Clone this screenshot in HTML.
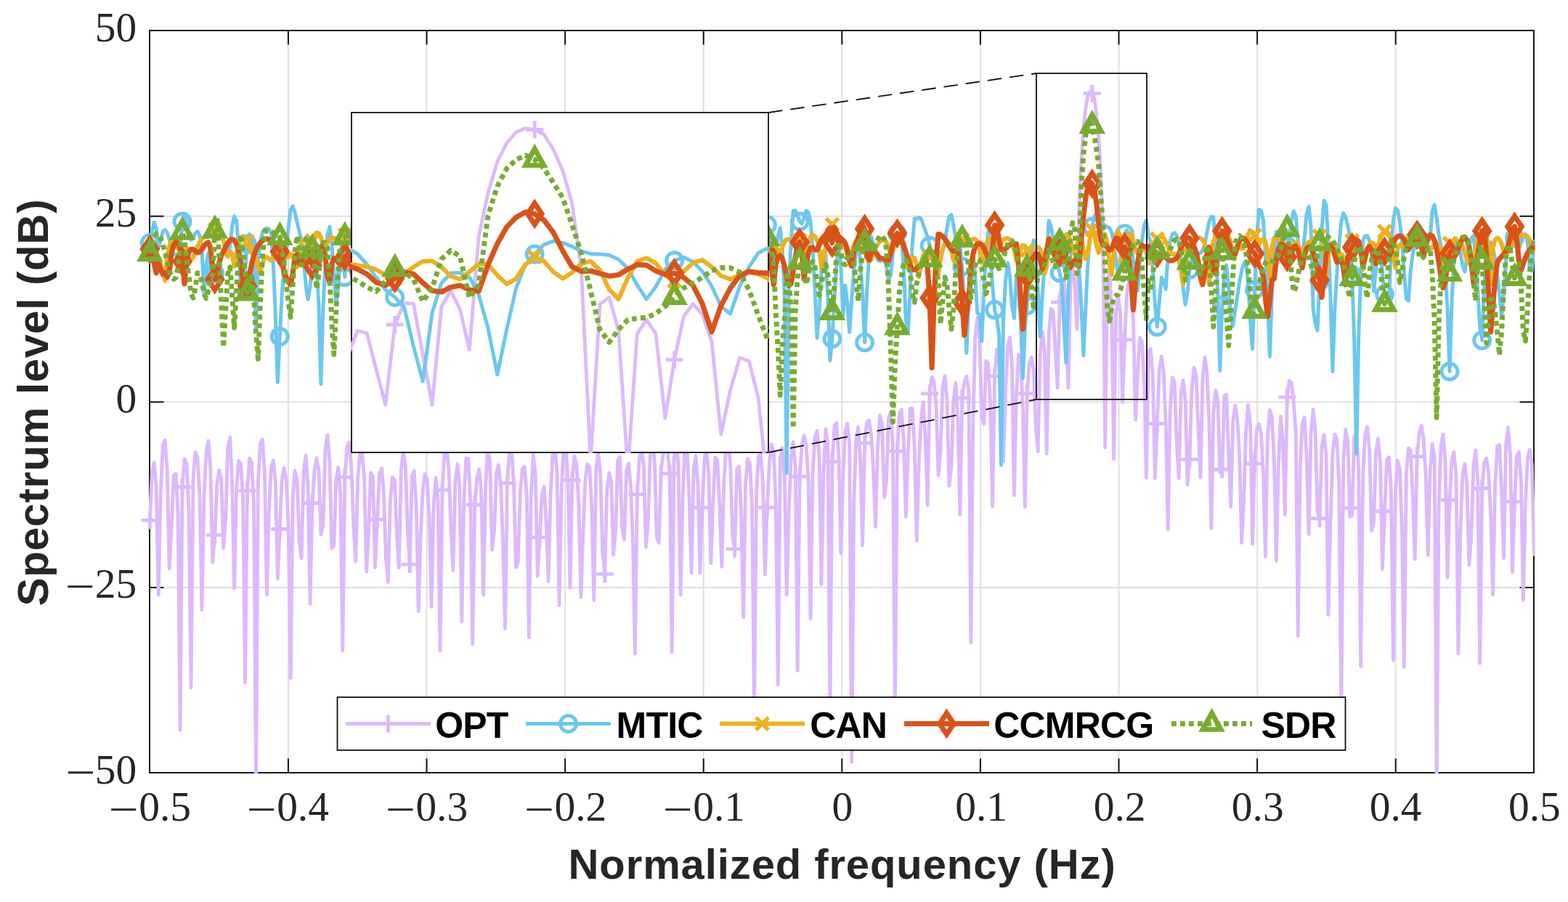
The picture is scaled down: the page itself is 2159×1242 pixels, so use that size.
<!DOCTYPE html>
<html><head><meta charset="utf-8"><title>Spectrum level</title>
<style>html,body{margin:0;padding:0;background:#fff;overflow:hidden;}svg{display:block;}</style>
</head><body>
<svg width="2159" height="1242" viewBox="0 0 2159 1242">
<rect width="2159" height="1242" fill="#fff"/>
<defs>
<clipPath id="cm"><rect x="204.5" y="40.5" width="1909.0" height="1025.0"/></clipPath>
<clipPath id="ci"><rect x="483.0" y="154.0" width="576.0" height="470.0"/></clipPath>
<clipPath id="cim"><rect x="484.0" y="155.0" width="574.0" height="468.0"/></clipPath>
</defs>
<path d="M396.9 42.0V1064.0M587.5 42.0V1064.0M778.1 42.0V1064.0M968.7 42.0V1064.0M1159.3 42.0V1064.0M1349.9 42.0V1064.0M1540.5 42.0V1064.0M1731.1 42.0V1064.0M1921.7 42.0V1064.0M206.0 297.8H2112.0M206.0 553.4H2112.0M206.0 809.0H2112.0" stroke="#dfdfdf" stroke-width="2" fill="none"/>
<path d="M206.0 1064.0V1044.5M206.0 42.0V61.5M396.9 1064.0V1044.5M396.9 42.0V61.5M587.5 1064.0V1044.5M587.5 42.0V61.5M778.1 1064.0V1044.5M778.1 42.0V61.5M968.7 1064.0V1044.5M968.7 42.0V61.5M1159.3 1064.0V1044.5M1159.3 42.0V61.5M1349.9 1064.0V1044.5M1349.9 42.0V61.5M1540.5 1064.0V1044.5M1540.5 42.0V61.5M1731.1 1064.0V1044.5M1731.1 42.0V61.5M1921.7 1064.0V1044.5M1921.7 42.0V61.5M2112.0 1064.0V1044.5M2112.0 42.0V61.5M206.0 42.0H225.5M2112.0 42.0H2092.5M206.0 297.8H225.5M2112.0 297.8H2092.5M206.0 553.4H225.5M2112.0 553.4H2092.5M206.0 809.0H225.5M2112.0 809.0H2092.5M206.0 1064.0H225.5M2112.0 1064.0H2092.5" stroke="#141414" stroke-width="2" fill="none"/>
<rect x="206.0" y="42.0" width="1906.0" height="1022.0" fill="none" stroke="#141414" stroke-width="2"/>
<polyline clip-path="url(#cm)" points="206.3,716.4 209.3,649.0 212.3,636.8 215.2,672.7 218.2,819.2 221.2,680.6 224.2,612.4 227.2,606.1 230.2,646.1 233.1,783.2 236.1,727.8 239.1,655.4 242.1,652.2 245.1,708.1 248.1,1005.3 251.0,670.5 254.0,631.8 257.0,637.8 260.0,702.5 263.0,947.0 266.0,658.8 268.9,622.8 271.9,629.8 274.9,681.5 277.9,839.7 280.9,688.1 283.9,621.9 286.8,606.9 289.8,643.5 292.8,774.3 295.8,736.6 298.8,667.4 301.7,647.3 304.7,659.6 307.7,754.4 310.7,714.0 313.7,615.7 316.7,602.2 319.6,663.0 322.6,809.9 325.6,673.2 328.6,634.7 331.6,638.1 334.6,686.0 337.5,939.9 340.5,675.6 343.5,631.1 346.5,636.5 349.5,695.6 352.5,1085.0 355.4,662.9 358.4,609.9 361.4,604.9 364.4,653.5 367.4,819.2 370.4,704.5 373.3,643.4 376.3,634.0 379.3,663.7 382.3,796.6 385.3,728.5 388.2,661.1 391.2,644.3 394.2,660.4 397.2,727.4 400.2,933.7 403.2,683.9 406.1,648.0 409.1,660.1 412.1,745.5 415.1,768.5 418.1,648.4 421.1,627.1 424.0,669.4 427.0,831.5 430.0,692.9 433.0,648.2 436.0,630.8 439.0,647.9 441.9,735.9 444.9,723.7 447.9,618.4 450.9,598.8 453.9,636.2 456.9,754.6 459.8,751.5 462.8,659.6 465.8,643.6 468.8,680.3 471.8,895.9 474.8,657.2 477.7,616.5 480.7,609.3 483.7,639.8 486.7,719.6 489.7,773.2 492.6,660.4 495.6,624.6 498.6,623.4 501.6,657.4 504.6,787.2 507.6,730.3 510.5,650.6 513.5,656.5 516.5,781.5 519.5,715.3 522.5,652.2 525.5,644.7 528.4,677.8 531.4,770.3 534.4,801.5 537.4,689.9 540.4,656.9 543.4,661.3 546.3,735.5 549.3,781.8 552.3,648.5 555.3,621.8 558.3,642.3 561.3,729.3 564.2,777.1 567.2,655.3 570.2,648.4 573.2,697.8 576.2,841.7 579.1,739.4 582.1,675.2 585.1,652.6 588.1,660.0 591.1,713.0 594.1,835.6 597.0,697.3 600.0,657.7 603.0,687.2 606.0,895.9 609.0,674.6 612.0,623.8 614.9,614.4 617.9,645.4 620.9,728.6 623.9,785.8 626.9,662.6 629.9,638.7 632.8,671.1 635.8,856.0 638.8,687.4 641.8,630.9 644.8,631.5 647.8,689.6 650.7,886.7 653.7,695.0 656.7,658.1 659.7,646.2 662.7,676.8 665.6,819.2 668.6,671.3 671.6,616.0 674.6,637.3 677.6,756.9 680.6,731.5 683.5,650.6 686.5,640.3 689.5,666.8 692.5,745.2 695.5,865.2 698.5,665.4 701.4,620.9 704.4,622.8 707.4,664.5 710.4,781.4 713.4,772.2 716.4,677.5 719.3,645.7 722.3,642.5 725.3,681.3 728.3,877.5 731.3,677.9 734.3,626.0 737.2,653.6 740.2,793.2 743.2,739.8 746.2,680.6 749.2,670.0 752.1,719.5 755.1,800.6 758.1,680.8 761.1,621.7 764.1,614.1 767.1,653.1 770.0,833.5 773.0,678.6 776.0,613.5 779.0,609.1 782.0,663.1 785.0,809.3 787.9,661.3 790.9,628.0 793.9,639.7 796.9,694.6 799.9,822.3 802.9,732.9 805.8,661.9 808.8,639.2 811.8,643.2 814.8,701.3 817.8,826.4 820.8,646.2 823.7,622.8 826.7,651.5 829.7,759.2 832.7,790.3 835.7,675.1 838.7,651.2 841.6,663.2 844.6,764.2 847.6,731.6 850.6,634.2 853.6,629.3 856.5,725.6 859.5,742.7 862.5,649.0 865.5,638.4 868.5,669.9 871.5,750.6 874.4,900.0 877.4,680.7 880.4,630.9 883.4,618.1 886.4,643.5 889.4,753.5 892.3,720.7 895.3,627.1 898.3,606.3 901.3,634.0 904.3,739.9 907.3,747.4 910.2,646.1 913.2,624.5 916.2,614.4 919.2,621.7 922.2,652.1 925.2,897.9 928.1,630.4 931.1,599.4 934.1,643.1 937.1,819.2 940.1,681.8 943.0,618.5 946.0,617.6 949.0,686.0 952.0,788.9 955.0,646.5 958.0,627.8 960.9,665.1 963.9,788.9 966.9,698.9 969.9,634.3 972.9,620.9 975.9,653.4 978.8,775.4 981.8,693.2 984.8,629.8 987.8,633.6 990.8,695.9 993.8,780.3 996.7,665.6 999.7,616.6 1002.7,610.1 1005.7,639.4 1008.7,740.1 1011.7,755.8 1014.6,645.9 1017.6,642.2 1020.6,709.3 1023.6,849.9 1026.6,665.7 1029.5,631.3 1032.5,638.3 1035.5,696.0 1038.5,982.8 1041.5,677.5 1044.5,627.4 1047.4,623.8 1050.4,666.8 1053.4,791.3 1056.4,698.9 1059.4,635.5 1062.4,612.0 1065.3,623.0 1068.3,697.6 1071.3,942.9 1074.3,630.3 1077.3,616.8 1080.3,657.2 1083.2,819.2 1086.2,705.4 1089.2,629.3 1092.2,608.4 1095.2,645.1 1098.2,923.5 1101.1,656.1 1104.1,613.7 1107.1,599.9 1110.1,611.9 1113.1,662.4 1116.0,851.9 1119.0,652.2 1122.0,601.5 1125.0,593.0 1128.0,627.4 1131.0,804.8 1133.9,651.0 1136.9,590.7 1139.9,612.5 1142.9,982.8 1145.9,635.7 1148.9,586.3 1151.8,582.5 1154.8,626.0 1157.8,761.5 1160.8,655.5 1163.8,593.0 1166.8,583.0 1169.7,612.2 1172.7,1049.3 1175.7,691.9 1178.7,607.7 1181.7,588.0 1184.7,634.9 1187.6,751.3 1190.6,610.2 1193.6,581.8 1196.6,578.7 1199.6,599.4 1202.6,649.2 1205.5,725.4 1208.5,617.0 1211.5,571.8 1214.5,582.1 1217.5,685.0 1220.4,664.5 1223.4,576.0 1226.4,567.0 1229.4,614.9 1232.4,982.8 1235.4,621.3 1238.3,568.8 1241.3,564.1 1244.3,606.1 1247.3,711.7 1250.3,623.1 1253.3,562.5 1256.2,562.5 1259.2,615.4 1262.2,744.4 1265.2,638.2 1268.2,577.6 1271.2,553.6 1274.1,601.9 1277.1,695.6 1280.1,541.8 1283.1,519.3 1286.1,526.1 1289.1,559.7 1292.0,654.3 1295.0,620.4 1298.0,532.4 1301.0,517.9 1304.0,549.9 1306.9,668.8 1309.9,643.3 1312.9,550.9 1315.9,527.2 1318.9,577.4 1321.9,708.7 1324.8,547.9 1327.8,525.7 1330.8,518.2 1333.8,537.4 1336.8,884.7 1339.8,586.3 1342.7,465.5 1345.7,437.5 1348.7,464.5 1351.7,571.8 1354.7,583.9 1357.7,497.0 1360.6,499.7 1363.6,557.2 1366.6,697.0 1369.6,517.9 1372.6,480.9 1375.6,487.2 1378.5,541.3 1381.5,635.6 1384.5,541.2 1387.5,477.2 1390.5,464.4 1393.4,502.1 1396.4,682.1 1399.4,546.1 1402.4,488.2 1405.4,495.7 1408.4,563.8 1411.3,698.0 1414.3,541.8 1417.3,499.6 1420.3,492.0 1423.3,509.9 1426.3,589.6 1429.2,621.6 1432.2,490.1 1435.2,456.6 1438.2,480.6 1441.2,625.0 1444.2,459.9 1447.1,425.2 1450.1,428.4 1453.1,482.4 1456.1,534.1 1459.1,416.1 1462.1,384.2 1465.0,385.4 1468.0,459.7 1471.0,534.1 1474.0,389.7 1477.0,365.9 1479.9,394.0 1482.9,453.1 1485.9,285.5 1488.9,222.4 1491.9,175.8 1494.9,148.5 1497.8,132.4 1500.8,126.6 1503.8,128.7 1506.8,135.7 1509.8,157.7 1512.8,188.6 1515.7,236.3 1518.7,333.7 1521.7,616.3 1524.7,386.1 1527.7,375.8 1530.7,425.4 1533.6,632.0 1536.6,429.6 1539.6,408.9 1542.6,429.6 1545.6,554.0 1548.6,467.9 1551.5,403.5 1554.5,385.6 1557.5,401.5 1560.5,441.2 1563.5,577.9 1566.5,512.5 1569.4,464.9 1572.4,469.9 1575.4,524.3 1578.4,658.0 1581.4,483.5 1584.3,480.2 1587.3,516.7 1590.3,658.7 1593.3,583.3 1596.3,507.6 1599.3,490.8 1602.2,513.0 1605.2,582.5 1608.2,729.1 1611.2,564.9 1614.2,519.8 1617.2,526.2 1620.1,607.1 1623.1,658.4 1626.1,542.2 1629.1,523.8 1632.1,551.0 1635.1,667.5 1638.0,632.7 1641.0,535.8 1644.0,505.8 1647.0,516.0 1650.0,592.2 1653.0,657.6 1655.9,522.2 1658.9,492.2 1661.9,512.3 1664.9,580.9 1667.9,727.3 1670.8,569.2 1673.8,537.2 1676.8,550.3 1679.8,650.2 1682.8,646.5 1685.8,544.8 1688.7,543.8 1691.7,624.4 1694.7,697.9 1697.7,579.9 1700.7,558.2 1703.7,575.6 1706.6,623.9 1709.6,747.4 1712.6,690.0 1715.6,593.2 1718.6,557.5 1721.6,583.8 1724.5,748.8 1727.5,638.7 1730.5,590.2 1733.5,583.8 1736.5,597.0 1739.5,654.0 1742.4,766.1 1745.4,601.5 1748.4,564.4 1751.4,574.5 1754.4,633.1 1757.3,772.3 1760.3,642.1 1763.3,573.3 1766.3,606.1 1769.3,708.7 1772.3,546.9 1775.2,524.2 1778.2,526.7 1781.2,553.8 1784.2,594.5 1787.2,875.5 1790.2,642.7 1793.1,583.6 1796.1,574.8 1799.1,629.4 1802.1,735.5 1805.1,596.3 1808.1,563.7 1811.0,592.8 1814.0,704.2 1817.0,713.9 1820.0,614.3 1823.0,598.9 1826.0,625.1 1828.9,846.8 1831.9,724.2 1834.9,626.3 1837.9,597.9 1840.9,605.9 1843.8,664.3 1846.8,982.8 1849.8,632.1 1852.8,591.3 1855.8,607.4 1858.8,711.7 1861.7,699.7 1864.7,601.9 1867.7,596.5 1870.7,644.5 1873.7,917.4 1876.7,654.2 1879.6,597.6 1882.6,587.7 1885.6,619.8 1888.6,730.6 1891.6,718.3 1894.6,621.9 1897.5,603.9 1900.5,636.2 1903.5,783.5 1906.5,704.0 1909.5,633.4 1912.5,629.5 1915.4,675.4 1918.4,909.2 1921.4,679.0 1924.4,634.1 1927.4,645.7 1930.4,726.8 1933.3,918.4 1936.3,653.0 1939.3,616.9 1942.3,620.1 1945.3,684.7 1948.2,769.9 1951.2,628.6 1954.2,596.0 1957.2,586.1 1960.2,604.5 1963.2,655.6 1966.1,764.3 1969.1,648.8 1972.1,611.0 1975.1,628.6 1978.1,1085.0 1981.1,695.5 1984.0,614.2 1987.0,598.0 1990.0,635.9 1993.0,795.4 1996.0,688.7 1999.0,632.9 2001.9,622.4 2004.9,652.3 2007.9,900.0 2010.9,731.8 2013.9,652.9 2016.9,638.7 2019.8,665.8 2022.8,778.0 2025.8,740.4 2028.8,640.8 2031.8,620.0 2034.7,662.1 2037.7,913.3 2040.7,672.5 2043.7,637.2 2046.7,630.9 2049.7,651.2 2052.6,709.3 2055.6,819.2 2058.6,666.4 2061.6,614.3 2064.6,612.5 2067.6,676.1 2070.5,768.5 2073.5,613.1 2076.5,588.7 2079.5,625.8 2082.5,787.7 2085.5,690.7 2088.4,627.2 2091.4,622.5 2094.4,660.8 2097.4,826.4 2100.4,693.9 2103.4,630.8 2106.3,619.1 2109.3,639.1 2112.3,763.0" fill="none" stroke="#dcb9fd" stroke-width="4.8" stroke-linejoin="round" stroke-linecap="round"/>
<path d="M194.3 716.4H218.3M206.3 704.4V728.4" stroke="#dcb9fd" stroke-width="4.8" fill="none"/><path d="M239.0 670.5H263.0M251.0 658.5V682.5" stroke="#dcb9fd" stroke-width="4.8" fill="none"/><path d="M283.8 736.6H307.8M295.8 724.6V748.6" stroke="#dcb9fd" stroke-width="4.8" fill="none"/><path d="M328.5 675.6H352.5M340.5 663.6V687.6" stroke="#dcb9fd" stroke-width="4.8" fill="none"/><path d="M373.3 728.5H397.3M385.3 716.5V740.5" stroke="#dcb9fd" stroke-width="4.8" fill="none"/><path d="M418.0 692.9H442.0M430.0 680.9V704.9" stroke="#dcb9fd" stroke-width="4.8" fill="none"/><path d="M462.8 657.2H486.8M474.8 645.2V669.2" stroke="#dcb9fd" stroke-width="4.8" fill="none"/><path d="M507.5 715.3H531.5M519.5 703.3V727.3" stroke="#dcb9fd" stroke-width="4.8" fill="none"/><path d="M552.2 777.1H576.2M564.2 765.1V789.1" stroke="#dcb9fd" stroke-width="4.8" fill="none"/><path d="M597.0 674.6H621.0M609.0 662.6V686.6" stroke="#dcb9fd" stroke-width="4.8" fill="none"/><path d="M641.7 695.0H665.7M653.7 683.0V707.0" stroke="#dcb9fd" stroke-width="4.8" fill="none"/><path d="M686.5 665.4H710.5M698.5 653.4V677.4" stroke="#dcb9fd" stroke-width="4.8" fill="none"/><path d="M731.2 739.8H755.2M743.2 727.8V751.8" stroke="#dcb9fd" stroke-width="4.8" fill="none"/><path d="M775.9 661.3H799.9M787.9 649.3V673.3" stroke="#dcb9fd" stroke-width="4.8" fill="none"/><path d="M820.7 790.3H844.7M832.7 778.3V802.3" stroke="#dcb9fd" stroke-width="4.8" fill="none"/><path d="M865.4 680.7H889.4M877.4 668.7V692.7" stroke="#dcb9fd" stroke-width="4.8" fill="none"/><path d="M910.2 652.1H934.2M922.2 640.1V664.1" stroke="#dcb9fd" stroke-width="4.8" fill="none"/><path d="M954.9 698.9H978.9M966.9 686.9V710.9" stroke="#dcb9fd" stroke-width="4.8" fill="none"/><path d="M999.7 755.8H1023.7M1011.7 743.8V767.8" stroke="#dcb9fd" stroke-width="4.8" fill="none"/><path d="M1044.4 698.9H1068.4M1056.4 686.9V710.9" stroke="#dcb9fd" stroke-width="4.8" fill="none"/><path d="M1089.1 656.1H1113.1M1101.1 644.1V668.1" stroke="#dcb9fd" stroke-width="4.8" fill="none"/><path d="M1133.9 635.7H1157.9M1145.9 623.7V647.7" stroke="#dcb9fd" stroke-width="4.8" fill="none"/><path d="M1178.6 610.2H1202.6M1190.6 598.2V622.2" stroke="#dcb9fd" stroke-width="4.8" fill="none"/><path d="M1223.4 621.3H1247.4M1235.4 609.3V633.3" stroke="#dcb9fd" stroke-width="4.8" fill="none"/><path d="M1268.1 541.8H1292.1M1280.1 529.8V553.8" stroke="#dcb9fd" stroke-width="4.8" fill="none"/><path d="M1312.8 547.9H1336.8M1324.8 535.9V559.9" stroke="#dcb9fd" stroke-width="4.8" fill="none"/><path d="M1357.6 517.9H1381.6M1369.6 505.9V529.9" stroke="#dcb9fd" stroke-width="4.8" fill="none"/><path d="M1402.3 541.8H1426.3M1414.3 529.8V553.8" stroke="#dcb9fd" stroke-width="4.8" fill="none"/><path d="M1447.1 416.1H1471.1M1459.1 404.1V428.1" stroke="#dcb9fd" stroke-width="4.8" fill="none"/><path d="M1491.8 128.7H1515.8M1503.8 116.7V140.7" stroke="#dcb9fd" stroke-width="4.8" fill="none"/><path d="M1536.6 467.9H1560.6M1548.6 455.9V479.9" stroke="#dcb9fd" stroke-width="4.8" fill="none"/><path d="M1581.3 583.3H1605.3M1593.3 571.3V595.3" stroke="#dcb9fd" stroke-width="4.8" fill="none"/><path d="M1626.0 632.7H1650.0M1638.0 620.7V644.7" stroke="#dcb9fd" stroke-width="4.8" fill="none"/><path d="M1670.8 646.5H1694.8M1682.8 634.5V658.5" stroke="#dcb9fd" stroke-width="4.8" fill="none"/><path d="M1715.5 638.7H1739.5M1727.5 626.7V650.7" stroke="#dcb9fd" stroke-width="4.8" fill="none"/><path d="M1760.3 546.9H1784.3M1772.3 534.9V558.9" stroke="#dcb9fd" stroke-width="4.8" fill="none"/><path d="M1805.0 713.9H1829.0M1817.0 701.9V725.9" stroke="#dcb9fd" stroke-width="4.8" fill="none"/><path d="M1849.7 699.7H1873.7M1861.7 687.7V711.7" stroke="#dcb9fd" stroke-width="4.8" fill="none"/><path d="M1894.5 704.0H1918.5M1906.5 692.0V716.0" stroke="#dcb9fd" stroke-width="4.8" fill="none"/><path d="M1939.2 628.6H1963.2M1951.2 616.6V640.6" stroke="#dcb9fd" stroke-width="4.8" fill="none"/><path d="M1984.0 688.7H2008.0M1996.0 676.7V700.7" stroke="#dcb9fd" stroke-width="4.8" fill="none"/><path d="M2028.7 672.5H2052.7M2040.7 660.5V684.5" stroke="#dcb9fd" stroke-width="4.8" fill="none"/><path d="M2073.5 690.7H2097.5M2085.5 678.7V702.7" stroke="#dcb9fd" stroke-width="4.8" fill="none"/>
<polyline clip-path="url(#cm)" points="206.3,334.6 209.3,317.9 212.3,306.1 215.2,314.6 218.2,341.0 221.2,330.1 224.2,318.9 227.2,316.5 230.2,320.1 233.1,329.1 236.1,341.3 239.1,349.8 242.1,350.5 245.1,350.9 248.1,342.8 251.0,305.0 254.0,294.5 257.0,305.7 260.0,321.8 263.0,330.3 266.0,327.6 268.9,321.1 271.9,318.6 274.9,324.0 277.9,342.8 280.9,406.9 283.9,365.0 286.8,348.6 289.8,367.3 292.8,384.7 295.8,376.6 298.8,367.3 301.7,368.4 304.7,353.1 307.7,343.0 310.7,344.4 313.7,351.0 316.7,338.8 319.6,311.6 322.6,297.8 325.6,303.6 328.6,340.8 331.6,404.0 334.6,410.3 337.5,373.1 340.5,336.1 343.5,322.4 346.5,332.9 349.5,361.0 352.5,451.2 355.4,357.3 358.4,332.1 361.4,320.7 364.4,315.4 367.4,313.9 370.4,315.4 373.3,320.5 376.3,363.6 379.3,433.7 382.3,526.5 385.3,463.4 388.2,404.5 391.2,366.7 394.2,347.8 397.2,312.7 400.2,288.6 403.2,283.8 406.1,292.6 409.1,305.9 412.1,318.6 415.1,330.1 418.1,357.3 421.1,392.6 424.0,412.3 427.0,394.3 430.0,360.7 433.0,336.7 436.0,366.2 439.0,422.2 441.9,528.9 444.9,423.6 447.9,364.1 450.9,322.6 453.9,312.1 456.9,335.3 459.8,381.8 462.8,419.8 465.8,392.8 468.8,350.8 471.8,327.4 474.8,381.6 477.7,336.7 480.7,320.7 483.7,316.5 486.7,314.2 489.7,316.3 492.6,325.3 495.6,343.4 498.6,368.6 501.6,365.9 504.6,351.0 507.6,347.4 510.5,356.2 513.5,384.3 516.5,415.9 519.5,364.0 522.5,342.0 525.5,332.2 528.4,329.8 531.4,333.8 534.4,345.0 537.4,366.2 540.4,389.5 543.4,370.4 546.3,353.1 549.3,347.7 552.3,353.4 555.3,375.2 558.3,423.0 561.3,367.6 564.2,340.3 567.2,326.9 570.2,321.3 573.2,321.6 576.2,327.5 579.1,340.0 582.1,362.1 585.1,381.5 588.1,357.2 591.1,336.8 594.1,325.6 597.0,320.8 600.0,321.0 603.0,325.7 606.0,334.2 609.0,346.1 612.0,360.2 614.9,374.7 617.9,388.7 620.9,404.0 623.9,417.7 626.9,399.2 629.9,370.6 632.8,350.4 635.8,338.2 638.8,333.3 641.8,336.6 644.8,351.0 647.8,376.7 650.7,356.8 653.7,331.1 656.7,318.9 659.7,316.8 662.7,324.9 665.6,349.4 668.6,451.2 671.6,351.3 674.6,325.5 677.6,317.1 680.6,319.6 683.5,334.0 686.5,371.6 689.5,400.9 692.5,348.7 695.5,333.7 698.5,332.8 701.4,343.1 704.4,365.8 707.4,378.8 710.4,357.5 713.4,344.7 716.4,341.8 719.3,345.6 722.3,351.9 725.3,354.6 728.3,351.8 731.3,348.1 734.3,346.8 737.2,347.6 740.2,349.1 743.2,349.5 746.2,347.8 749.2,344.3 752.1,340.6 755.1,338.2 758.1,338.2 761.1,341.3 764.1,347.2 767.1,353.5 770.0,354.6 773.0,349.0 776.0,342.1 779.0,337.3 782.0,335.1 785.0,335.2 787.9,337.8 790.9,343.8 793.9,355.0 796.9,369.4 799.9,364.4 802.9,345.0 805.8,331.7 808.8,326.3 811.8,328.3 814.8,338.4 817.8,354.5 820.8,355.9 823.7,341.1 826.7,332.9 829.7,334.8 832.7,350.2 835.7,395.6 838.7,371.8 841.6,337.0 844.6,322.6 847.6,318.6 850.6,322.8 853.6,335.9 856.5,362.7 859.5,440.0 862.5,395.8 865.5,370.8 868.5,367.6 871.5,376.6 874.4,394.1 877.4,403.7 880.4,397.1 883.4,395.7 886.4,403.6 889.4,402.0 892.3,381.0 895.3,364.8 898.3,357.3 901.3,356.3 904.3,353.9 907.3,340.1 910.2,322.3 913.2,308.7 916.2,302.9 919.2,302.9 922.2,302.9 925.2,312.2 928.1,334.1 931.1,376.2 934.1,359.9 937.1,335.4 940.1,327.9 943.0,331.3 946.0,343.0 949.0,354.6 952.0,349.3 955.0,339.7 958.0,337.0 960.9,340.8 963.9,345.7 966.9,341.6 969.9,332.2 972.9,326.4 975.9,326.9 978.8,335.4 981.8,355.7 984.8,403.2 987.8,388.6 990.8,357.4 993.8,347.0 996.7,347.6 999.7,357.0 1002.7,376.0 1005.7,405.4 1008.7,431.3 1011.7,437.9 1014.6,416.4 1017.6,380.5 1020.6,355.9 1023.6,339.8 1026.6,329.5 1029.5,323.5 1032.5,321.3 1035.5,322.6 1038.5,326.9 1041.5,330.9 1044.5,328.0 1047.4,318.9 1050.4,310.7 1053.4,307.2 1056.4,309.5 1059.4,319.3 1062.4,339.6 1065.3,363.7 1068.3,343.5 1071.3,323.6 1074.3,313.7 1077.3,345.5 1080.3,405.3 1083.2,651.5 1086.2,399.3 1089.2,331.6 1092.2,290.2 1095.2,290.0 1098.2,296.3 1101.1,305.0 1104.1,307.9 1107.1,299.9 1110.1,290.2 1113.1,291.9 1116.0,305.6 1119.0,341.5 1122.0,396.6 1125.0,465.5 1128.0,431.1 1131.0,370.1 1133.9,345.5 1136.9,352.4 1139.9,411.3 1142.9,496.2 1145.9,466.5 1148.9,410.0 1151.8,361.4 1154.8,340.7 1157.8,365.9 1160.8,434.8 1163.8,392.9 1166.8,417.7 1169.7,457.3 1172.7,411.9 1175.7,372.1 1178.7,347.2 1181.7,338.2 1184.7,358.9 1187.6,404.7 1190.6,471.6 1193.6,401.8 1196.6,351.8 1199.6,325.8 1202.6,335.8 1205.5,347.7 1208.5,357.7 1211.5,359.9 1214.5,357.0 1217.5,356.8 1220.4,365.0 1223.4,384.6 1226.4,379.1 1229.4,348.8 1232.4,330.4 1235.4,321.5 1238.3,320.5 1241.3,327.6 1244.3,368.3 1247.3,440.1 1250.3,457.3 1253.3,397.5 1256.2,337.1 1259.2,301.0 1262.2,301.9 1265.2,299.3 1268.2,301.1 1271.2,309.0 1274.1,317.1 1277.1,326.1 1280.1,338.2 1283.1,350.0 1286.1,351.8 1289.1,348.2 1292.0,347.4 1295.0,348.7 1298.0,344.9 1301.0,331.8 1304.0,313.5 1306.9,298.2 1309.9,295.8 1312.9,309.7 1315.9,329.5 1318.9,339.7 1321.9,339.0 1324.8,367.1 1327.8,416.0 1330.8,485.9 1333.8,412.8 1336.8,363.9 1339.8,345.1 1342.7,379.4 1345.7,430.7 1348.7,433.4 1351.7,469.6 1354.7,403.1 1357.7,348.8 1360.6,318.8 1363.6,348.4 1366.6,394.1 1369.6,426.6 1372.6,438.6 1375.6,461.2 1378.5,640.3 1381.5,440.7 1384.5,386.6 1387.5,362.0 1390.5,380.4 1393.4,420.1 1396.4,438.4 1399.4,382.3 1402.4,394.9 1405.4,441.6 1408.4,520.7 1411.3,453.1 1414.3,420.5 1417.3,378.0 1420.3,348.7 1423.3,330.8 1426.3,353.1 1429.2,401.0 1432.2,463.4 1435.2,406.6 1438.2,366.0 1441.2,354.1 1444.2,303.7 1447.1,311.7 1450.1,327.3 1453.1,346.6 1456.1,364.7 1459.1,375.8 1462.1,390.6 1465.0,447.8 1468.0,499.6 1471.0,399.0 1474.0,355.1 1477.0,340.1 1479.9,339.6 1482.9,345.9 1485.9,372.2 1488.9,421.4 1491.9,489.7 1494.9,423.3 1497.8,362.6 1500.8,327.8 1503.8,312.3 1506.8,298.2 1509.8,292.9 1512.8,295.5 1515.7,300.7 1518.7,307.8 1521.7,311.6 1524.7,312.3 1527.7,313.7 1530.7,320.1 1533.6,333.1 1536.6,357.6 1539.6,378.7 1542.6,360.1 1545.6,334.8 1548.6,321.7 1551.5,316.9 1554.5,323.4 1557.5,337.7 1560.5,359.6 1563.5,389.4 1566.5,400.1 1569.4,359.6 1572.4,331.1 1575.4,310.5 1578.4,303.4 1581.4,325.1 1584.3,333.2 1587.3,370.9 1590.3,417.5 1593.3,450.1 1596.3,414.9 1599.3,382.2 1602.2,387.0 1605.2,398.1 1608.2,351.5 1611.2,331.5 1614.2,322.5 1617.2,320.6 1620.1,324.3 1623.1,333.3 1626.1,355.9 1629.1,396.9 1632.1,419.5 1635.1,402.6 1638.0,371.2 1641.0,357.5 1644.0,354.3 1647.0,352.0 1650.0,350.0 1653.0,348.3 1655.9,345.1 1658.9,335.9 1661.9,319.7 1664.9,305.0 1667.9,298.3 1670.8,299.0 1673.8,337.9 1676.8,401.5 1679.8,510.5 1682.8,420.2 1685.8,378.0 1688.7,365.1 1691.7,395.6 1694.7,438.7 1697.7,449.0 1700.7,427.3 1703.7,408.3 1706.6,388.9 1709.6,373.0 1712.6,362.9 1715.6,359.1 1718.6,390.6 1721.6,442.3 1724.5,480.4 1727.5,399.0 1730.5,327.5 1733.5,288.6 1736.5,290.1 1739.5,302.9 1742.4,350.9 1745.4,410.5 1748.4,491.0 1751.4,404.1 1754.4,347.9 1757.3,319.0 1760.3,330.2 1763.3,347.1 1766.3,358.3 1769.3,350.9 1772.3,338.5 1775.2,323.8 1778.2,305.1 1781.2,290.7 1784.2,297.5 1787.2,330.3 1790.2,360.7 1793.1,355.9 1796.1,327.2 1799.1,295.0 1802.1,284.5 1805.1,312.8 1808.1,425.4 1811.0,444.3 1814.0,455.2 1817.0,387.5 1820.0,317.0 1823.0,276.3 1826.0,282.3 1828.9,332.9 1831.9,405.6 1834.9,511.5 1837.9,422.5 1840.9,375.0 1843.8,338.0 1846.8,305.0 1849.8,293.3 1852.8,299.0 1855.8,311.2 1858.8,325.1 1861.7,378.3 1864.7,468.7 1867.7,625.0 1870.7,462.3 1873.7,379.3 1876.7,331.3 1879.6,324.9 1882.6,324.6 1885.6,331.9 1888.6,351.4 1891.6,401.1 1894.6,369.2 1897.5,338.0 1900.5,346.0 1903.5,377.3 1906.5,405.2 1909.5,403.7 1912.5,415.5 1915.4,344.6 1918.4,303.9 1921.4,286.6 1924.4,289.3 1927.4,305.5 1930.4,331.4 1933.3,374.8 1936.3,411.3 1939.3,414.2 1942.3,372.2 1945.3,349.1 1948.2,336.8 1951.2,328.9 1954.2,324.6 1957.2,323.4 1960.2,323.6 1963.2,323.0 1966.1,324.2 1969.1,329.2 1972.1,290.6 1975.1,282.2 1978.1,299.6 1981.1,322.6 1984.0,340.3 1987.0,347.3 1990.0,376.6 1993.0,425.0 1996.0,511.5 1999.0,415.5 2001.9,358.8 2004.9,328.0 2007.9,335.4 2010.9,347.8 2013.9,365.8 2016.9,373.8 2019.8,355.2 2022.8,338.2 2025.8,328.4 2028.8,324.9 2031.8,351.8 2034.7,400.2 2037.7,450.1 2040.7,468.7 2043.7,392.2 2046.7,343.2 2049.7,333.6 2052.6,333.3 2055.6,341.1 2058.6,356.9 2061.6,379.9 2064.6,404.0 2067.6,437.1 2070.5,403.7 2073.5,360.6 2076.5,337.6 2079.5,325.9 2082.5,322.7 2085.5,327.4 2088.4,338.5 2091.4,343.6 2094.4,332.6 2097.4,323.2 2100.4,322.7 2103.4,334.1 2106.3,367.6 2109.3,372.8 2112.3,332.4" fill="none" stroke="#6cc7f0" stroke-width="5.0" stroke-linejoin="round" stroke-linecap="round"/>
<circle cx="206.3" cy="334.6" r="11" stroke="#6cc7f0" stroke-width="5.0" fill="none"/><circle cx="251.0" cy="305.0" r="11" stroke="#6cc7f0" stroke-width="5.0" fill="none"/><circle cx="295.8" cy="376.6" r="11" stroke="#6cc7f0" stroke-width="5.0" fill="none"/><circle cx="340.5" cy="336.1" r="11" stroke="#6cc7f0" stroke-width="5.0" fill="none"/><circle cx="385.3" cy="463.4" r="11" stroke="#6cc7f0" stroke-width="5.0" fill="none"/><circle cx="430.0" cy="360.7" r="11" stroke="#6cc7f0" stroke-width="5.0" fill="none"/><circle cx="474.8" cy="381.6" r="11" stroke="#6cc7f0" stroke-width="5.0" fill="none"/><circle cx="519.5" cy="364.0" r="11" stroke="#6cc7f0" stroke-width="5.0" fill="none"/><circle cx="564.2" cy="340.3" r="11" stroke="#6cc7f0" stroke-width="5.0" fill="none"/><circle cx="609.0" cy="346.1" r="11" stroke="#6cc7f0" stroke-width="5.0" fill="none"/><circle cx="653.7" cy="331.1" r="11" stroke="#6cc7f0" stroke-width="5.0" fill="none"/><circle cx="698.5" cy="332.8" r="11" stroke="#6cc7f0" stroke-width="5.0" fill="none"/><circle cx="743.2" cy="349.5" r="11" stroke="#6cc7f0" stroke-width="5.0" fill="none"/><circle cx="787.9" cy="337.8" r="11" stroke="#6cc7f0" stroke-width="5.0" fill="none"/><circle cx="832.7" cy="350.2" r="11" stroke="#6cc7f0" stroke-width="5.0" fill="none"/><circle cx="877.4" cy="403.7" r="11" stroke="#6cc7f0" stroke-width="5.0" fill="none"/><circle cx="922.2" cy="302.9" r="11" stroke="#6cc7f0" stroke-width="5.0" fill="none"/><circle cx="966.9" cy="341.6" r="11" stroke="#6cc7f0" stroke-width="5.0" fill="none"/><circle cx="1011.7" cy="437.9" r="11" stroke="#6cc7f0" stroke-width="5.0" fill="none"/><circle cx="1056.4" cy="309.5" r="11" stroke="#6cc7f0" stroke-width="5.0" fill="none"/><circle cx="1101.1" cy="305.0" r="11" stroke="#6cc7f0" stroke-width="5.0" fill="none"/><circle cx="1145.9" cy="466.5" r="11" stroke="#6cc7f0" stroke-width="5.0" fill="none"/><circle cx="1190.6" cy="471.6" r="11" stroke="#6cc7f0" stroke-width="5.0" fill="none"/><circle cx="1235.4" cy="321.5" r="11" stroke="#6cc7f0" stroke-width="5.0" fill="none"/><circle cx="1280.1" cy="338.2" r="11" stroke="#6cc7f0" stroke-width="5.0" fill="none"/><circle cx="1324.8" cy="367.1" r="11" stroke="#6cc7f0" stroke-width="5.0" fill="none"/><circle cx="1369.6" cy="426.6" r="11" stroke="#6cc7f0" stroke-width="5.0" fill="none"/><circle cx="1414.3" cy="420.5" r="11" stroke="#6cc7f0" stroke-width="5.0" fill="none"/><circle cx="1459.1" cy="375.8" r="11" stroke="#6cc7f0" stroke-width="5.0" fill="none"/><circle cx="1503.8" cy="312.3" r="11" stroke="#6cc7f0" stroke-width="5.0" fill="none"/><circle cx="1548.6" cy="321.7" r="11" stroke="#6cc7f0" stroke-width="5.0" fill="none"/><circle cx="1593.3" cy="450.1" r="11" stroke="#6cc7f0" stroke-width="5.0" fill="none"/><circle cx="1638.0" cy="371.2" r="11" stroke="#6cc7f0" stroke-width="5.0" fill="none"/><circle cx="1682.8" cy="420.2" r="11" stroke="#6cc7f0" stroke-width="5.0" fill="none"/><circle cx="1727.5" cy="399.0" r="11" stroke="#6cc7f0" stroke-width="5.0" fill="none"/><circle cx="1772.3" cy="338.5" r="11" stroke="#6cc7f0" stroke-width="5.0" fill="none"/><circle cx="1817.0" cy="387.5" r="11" stroke="#6cc7f0" stroke-width="5.0" fill="none"/><circle cx="1861.7" cy="378.3" r="11" stroke="#6cc7f0" stroke-width="5.0" fill="none"/><circle cx="1906.5" cy="405.2" r="11" stroke="#6cc7f0" stroke-width="5.0" fill="none"/><circle cx="1951.2" cy="328.9" r="11" stroke="#6cc7f0" stroke-width="5.0" fill="none"/><circle cx="1996.0" cy="511.5" r="11" stroke="#6cc7f0" stroke-width="5.0" fill="none"/><circle cx="2040.7" cy="468.7" r="11" stroke="#6cc7f0" stroke-width="5.0" fill="none"/><circle cx="2085.5" cy="327.4" r="11" stroke="#6cc7f0" stroke-width="5.0" fill="none"/>
<polyline clip-path="url(#cm)" points="206.3,344.6 209.3,341.3 212.3,341.7 215.2,346.4 218.2,354.2 221.2,362.7 224.2,375.8 227.2,386.7 230.2,352.8 233.1,338.4 236.1,330.7 239.1,327.6 242.1,328.0 245.1,332.0 248.1,339.4 251.0,348.3 254.0,352.3 257.0,352.4 260.0,354.9 263.0,358.0 266.0,354.5 268.9,346.8 271.9,339.6 274.9,333.7 277.9,329.3 280.9,326.9 283.9,326.2 286.8,325.8 289.8,323.5 292.8,319.4 295.8,315.9 298.8,315.2 301.7,316.1 304.7,321.2 307.7,331.1 310.7,348.0 313.7,353.3 316.7,346.3 319.6,349.7 322.6,367.0 325.6,349.4 328.6,334.1 331.6,327.2 334.6,325.3 337.5,327.1 340.5,332.4 343.5,340.4 346.5,348.0 349.5,352.0 352.5,356.8 355.4,367.8 358.4,375.6 361.4,362.3 364.4,355.1 367.4,353.9 370.4,356.4 373.3,358.8 376.3,354.9 379.3,347.9 382.3,342.9 385.3,340.9 388.2,342.4 391.2,347.6 394.2,354.7 397.2,354.1 400.2,349.8 403.2,351.1 406.1,364.0 409.1,367.5 412.1,343.7 415.1,333.5 418.1,329.9 421.1,331.9 424.0,339.4 427.0,343.0 430.0,331.9 433.0,323.7 436.0,320.4 439.0,321.4 441.9,326.9 444.9,336.9 447.9,341.8 450.9,334.0 453.9,328.6 456.9,327.2 459.8,327.9 462.8,328.6 465.8,327.5 468.8,324.0 471.8,320.1 474.8,323.4 477.7,340.0 480.7,363.6 483.7,363.1 486.7,362.0 489.7,369.3 492.6,365.6 495.6,348.5 498.6,337.1 501.6,329.7 504.6,325.1 507.6,322.9 510.5,323.3 513.5,326.7 516.5,333.9 519.5,342.9 522.5,340.6 525.5,332.7 528.4,328.5 531.4,327.8 534.4,329.6 537.4,332.7 540.4,335.5 543.4,337.9 546.3,341.8 549.3,350.3 552.3,371.1 555.3,374.0 558.3,351.2 561.3,342.3 564.2,339.1 567.2,340.5 570.2,348.5 573.2,374.8 576.2,356.2 579.1,338.4 582.1,331.2 585.1,329.7 588.1,332.2 591.1,334.3 594.1,328.6 597.0,321.2 600.0,317.2 603.0,317.1 606.0,321.5 609.0,331.8 612.0,339.9 614.9,328.1 617.9,320.0 620.9,317.4 623.9,319.1 626.9,325.2 629.9,336.0 632.8,347.8 635.8,347.5 638.8,346.0 641.8,347.0 644.8,342.9 647.8,335.9 650.7,332.1 653.7,332.6 656.7,337.3 659.7,342.3 662.7,338.9 665.6,333.3 668.6,331.4 671.6,333.8 674.6,338.7 677.6,337.8 680.6,330.1 683.5,323.8 686.5,320.3 689.5,319.0 692.5,319.2 695.5,320.4 698.5,322.0 701.4,324.1 704.4,326.3 707.4,328.3 710.4,329.3 713.4,328.8 716.4,327.4 719.3,326.0 722.3,325.5 725.3,326.7 728.3,330.5 731.3,338.5 734.3,354.9 737.2,357.7 740.2,340.7 743.2,332.8 746.2,330.4 749.2,332.1 752.1,338.6 755.1,351.7 758.1,360.8 761.1,345.9 764.1,337.4 767.1,333.8 770.0,333.7 773.0,336.7 776.0,343.8 779.0,357.7 782.0,354.2 785.0,336.6 787.9,325.8 790.9,319.3 793.9,315.8 796.9,315.2 799.9,316.2 802.9,320.5 805.8,328.5 808.8,342.1 811.8,357.4 814.8,348.0 817.8,341.4 820.8,341.1 823.7,345.5 826.7,353.7 829.7,363.7 832.7,372.1 835.7,377.9 838.7,367.7 841.6,354.9 844.6,347.9 847.6,345.7 850.6,347.0 853.6,347.9 856.5,342.9 859.5,336.7 862.5,333.5 865.5,334.5 868.5,341.6 871.5,363.2 874.4,360.5 877.4,339.2 880.4,331.4 883.4,329.7 886.4,332.9 889.4,341.1 892.3,347.4 895.3,339.2 898.3,332.1 901.3,329.7 904.3,331.4 907.3,337.0 910.2,344.6 913.2,346.7 916.2,342.8 919.2,340.3 922.2,339.8 925.2,339.5 928.1,338.3 931.1,337.6 934.1,339.6 937.1,347.1 940.1,365.8 943.0,356.8 946.0,339.1 949.0,330.3 952.0,325.8 955.0,324.2 958.0,324.9 960.9,327.3 963.9,331.3 966.9,336.2 969.9,340.7 972.9,344.3 975.9,347.9 978.8,353.6 981.8,364.5 984.8,378.8 987.8,363.0 990.8,350.6 993.8,344.3 996.7,342.2 999.7,344.4 1002.7,351.7 1005.7,357.3 1008.7,344.9 1011.7,334.3 1014.6,328.6 1017.6,326.9 1020.6,328.7 1023.6,334.1 1026.6,341.3 1029.5,342.3 1032.5,337.3 1035.5,334.4 1038.5,334.9 1041.5,337.1 1044.5,338.1 1047.4,336.5 1050.4,335.3 1053.4,336.3 1056.4,339.0 1059.4,339.8 1062.4,337.5 1065.3,336.1 1068.3,338.3 1071.3,345.1 1074.3,349.4 1077.3,340.3 1080.3,332.6 1083.2,329.5 1086.2,329.7 1089.2,331.5 1092.2,331.7 1095.2,329.6 1098.2,328.4 1101.1,330.7 1104.1,339.3 1107.1,366.8 1110.1,352.2 1113.1,333.4 1116.0,326.0 1119.0,323.7 1122.0,325.3 1125.0,330.9 1128.0,342.2 1131.0,368.6 1133.9,359.5 1136.9,340.5 1139.9,327.5 1142.9,315.0 1145.9,309.0 1148.9,314.7 1151.8,324.9 1154.8,331.1 1157.8,333.5 1160.8,335.8 1163.8,341.0 1166.8,351.5 1169.7,363.2 1172.7,349.1 1175.7,337.9 1178.7,332.1 1181.7,329.8 1184.7,330.3 1187.6,333.4 1190.6,339.5 1193.6,349.1 1196.6,360.3 1199.6,357.5 1202.6,348.3 1205.5,341.4 1208.5,336.2 1211.5,332.4 1214.5,330.3 1217.5,330.4 1220.4,333.6 1223.4,341.1 1226.4,351.2 1229.4,344.9 1232.4,334.2 1235.4,328.4 1238.3,326.6 1241.3,328.5 1244.3,334.3 1247.3,346.0 1250.3,369.4 1253.3,366.0 1256.2,354.7 1259.2,354.7 1262.2,364.4 1265.2,381.1 1268.2,362.1 1271.2,351.8 1274.1,348.7 1277.1,350.0 1280.1,353.6 1283.1,356.6 1286.1,359.0 1289.1,365.8 1292.0,377.0 1295.0,357.5 1298.0,343.3 1301.0,335.9 1304.0,333.2 1306.9,334.9 1309.9,342.2 1312.9,359.1 1315.9,355.3 1318.9,339.1 1321.9,331.8 1324.8,329.3 1327.8,330.1 1330.8,332.6 1333.8,333.6 1336.8,331.4 1339.8,329.0 1342.7,328.9 1345.7,332.5 1348.7,342.0 1351.7,361.5 1354.7,349.8 1357.7,335.9 1360.6,329.8 1363.6,328.4 1366.6,330.5 1369.6,335.4 1372.6,340.4 1375.6,339.5 1378.5,334.6 1381.5,330.5 1384.5,328.4 1387.5,328.1 1390.5,330.0 1393.4,334.7 1396.4,343.6 1399.4,358.0 1402.4,354.3 1405.4,342.8 1408.4,338.0 1411.3,338.6 1414.3,345.0 1417.3,362.5 1420.3,378.7 1423.3,351.3 1426.3,342.6 1429.2,340.4 1432.2,343.0 1435.2,351.5 1438.2,376.0 1441.2,366.9 1444.2,327.3 1447.1,328.6 1450.1,330.5 1453.1,335.1 1456.1,342.8 1459.1,348.7 1462.1,341.5 1465.0,331.1 1468.0,322.8 1471.0,322.1 1474.0,331.1 1477.0,344.7 1479.9,349.2 1482.9,338.2 1485.9,326.5 1488.9,327.2 1491.9,343.3 1494.9,356.3 1497.8,348.6 1500.8,327.8 1503.8,316.2 1506.8,322.7 1509.8,338.2 1512.8,348.1 1515.7,339.5 1518.7,326.5 1521.7,322.7 1524.7,335.6 1527.7,364.1 1530.7,378.5 1533.6,347.3 1536.6,322.7 1539.6,318.2 1542.6,325.2 1545.6,343.3 1548.6,351.9 1551.5,337.7 1554.5,324.7 1557.5,320.8 1560.5,331.1 1563.5,344.1 1566.5,349.2 1569.4,342.8 1572.4,338.9 1575.4,341.5 1578.4,347.9 1581.4,362.6 1584.3,348.7 1587.3,340.2 1590.3,333.6 1593.3,328.9 1596.3,326.2 1599.3,325.8 1602.2,327.8 1605.2,332.6 1608.2,340.0 1611.2,347.7 1614.2,350.0 1617.2,349.3 1620.1,351.1 1623.1,357.6 1626.1,372.9 1629.1,391.9 1632.1,362.2 1635.1,347.4 1638.0,338.3 1641.0,332.4 1644.0,328.9 1647.0,327.2 1650.0,326.9 1653.0,327.8 1655.9,330.3 1658.9,335.6 1661.9,347.6 1664.9,391.9 1667.9,347.9 1670.8,332.5 1673.8,325.1 1676.8,321.5 1679.8,320.1 1682.8,319.8 1685.8,320.3 1688.7,322.0 1691.7,325.9 1694.7,333.6 1697.7,346.2 1700.7,349.6 1703.7,341.2 1706.6,339.0 1709.6,342.7 1712.6,341.9 1715.6,330.9 1718.6,322.5 1721.6,318.8 1724.5,319.2 1727.5,323.8 1730.5,332.3 1733.5,337.1 1736.5,331.9 1739.5,329.0 1742.4,332.3 1745.4,345.9 1748.4,383.3 1751.4,339.1 1754.4,328.3 1757.3,325.1 1760.3,326.8 1763.3,332.7 1766.3,342.3 1769.3,351.4 1772.3,352.7 1775.2,348.9 1778.2,342.3 1781.2,336.4 1784.2,333.7 1787.2,335.5 1790.2,343.3 1793.1,355.9 1796.1,347.5 1799.1,337.1 1802.1,332.7 1805.1,331.5 1808.1,330.2 1811.0,327.3 1814.0,324.8 1817.0,325.0 1820.0,329.4 1823.0,341.1 1826.0,384.2 1828.9,350.2 1831.9,337.0 1834.9,334.1 1837.9,337.0 1840.9,344.3 1843.8,350.3 1846.8,350.1 1849.8,353.5 1852.8,375.2 1855.8,363.4 1858.8,340.8 1861.7,331.5 1864.7,327.9 1867.7,328.6 1870.7,333.6 1873.7,344.7 1876.7,371.1 1879.6,359.3 1882.6,342.9 1885.6,336.1 1888.6,334.0 1891.6,335.7 1894.6,339.3 1897.5,337.6 1900.5,329.2 1903.5,322.2 1906.5,318.6 1909.5,318.4 1912.5,321.9 1915.4,330.6 1918.4,350.5 1921.4,368.6 1924.4,342.9 1927.4,337.1 1930.4,338.0 1933.3,338.9 1936.3,332.4 1939.3,324.7 1942.3,319.9 1945.3,318.4 1948.2,319.8 1951.2,324.1 1954.2,330.7 1957.2,337.0 1960.2,338.7 1963.2,338.4 1966.1,340.1 1969.1,342.7 1972.1,341.2 1975.1,337.0 1978.1,335.0 1981.1,337.2 1984.0,345.4 1987.0,361.9 1990.0,353.1 1993.0,340.5 1996.0,335.1 1999.0,333.4 2001.9,333.0 2004.9,332.3 2007.9,331.7 2010.9,333.0 2013.9,337.8 2016.9,347.3 2019.8,359.3 2022.8,361.4 2025.8,367.4 2028.8,387.0 2031.8,346.1 2034.7,330.5 2037.7,322.5 2040.7,319.3 2043.7,320.1 2046.7,325.9 2049.7,340.1 2052.6,391.9 2055.6,341.2 2058.6,330.2 2061.6,327.5 2064.6,329.7 2067.6,336.3 2070.5,346.3 2073.5,351.8 2076.5,347.2 2079.5,341.8 2082.5,337.1 2085.5,332.8 2088.4,329.2 2091.4,326.4 2094.4,324.4 2097.4,323.4 2100.4,323.6 2103.4,325.9 2106.3,330.8 2109.3,338.7 2112.3,346.0" fill="none" stroke="#ecb120" stroke-width="6.0" stroke-linejoin="round" stroke-linecap="round"/>
<path d="M197.7 336.0L214.9 353.2M197.7 353.2L214.9 336.0" stroke="#ecb120" stroke-width="5.5" fill="none"/><path d="M242.4 339.7L259.6 356.9M242.4 356.9L259.6 339.7" stroke="#ecb120" stroke-width="5.5" fill="none"/><path d="M287.2 307.3L304.4 324.5M287.2 324.5L304.4 307.3" stroke="#ecb120" stroke-width="5.5" fill="none"/><path d="M331.9 323.8L349.1 341.0M331.9 341.0L349.1 323.8" stroke="#ecb120" stroke-width="5.5" fill="none"/><path d="M376.7 332.3L393.9 349.5M376.7 349.5L393.9 332.3" stroke="#ecb120" stroke-width="5.5" fill="none"/><path d="M421.4 323.3L438.6 340.5M421.4 340.5L438.6 323.3" stroke="#ecb120" stroke-width="5.5" fill="none"/><path d="M466.2 314.8L483.4 332.0M466.2 332.0L483.4 314.8" stroke="#ecb120" stroke-width="5.5" fill="none"/><path d="M510.9 334.3L528.1 351.5M510.9 351.5L528.1 334.3" stroke="#ecb120" stroke-width="5.5" fill="none"/><path d="M555.6 330.5L572.8 347.7M555.6 347.7L572.8 330.5" stroke="#ecb120" stroke-width="5.5" fill="none"/><path d="M600.4 323.2L617.6 340.4M600.4 340.4L617.6 323.2" stroke="#ecb120" stroke-width="5.5" fill="none"/><path d="M645.1 324.0L662.3 341.2M645.1 341.2L662.3 324.0" stroke="#ecb120" stroke-width="5.5" fill="none"/><path d="M689.9 313.4L707.1 330.6M689.9 330.6L707.1 313.4" stroke="#ecb120" stroke-width="5.5" fill="none"/><path d="M734.6 324.2L751.8 341.4M734.6 341.4L751.8 324.2" stroke="#ecb120" stroke-width="5.5" fill="none"/><path d="M779.3 317.2L796.5 334.4M779.3 334.4L796.5 317.2" stroke="#ecb120" stroke-width="5.5" fill="none"/><path d="M824.1 363.5L841.3 380.7M824.1 380.7L841.3 363.5" stroke="#ecb120" stroke-width="5.5" fill="none"/><path d="M868.8 330.6L886.0 347.8M868.8 347.8L886.0 330.6" stroke="#ecb120" stroke-width="5.5" fill="none"/><path d="M913.6 331.2L930.8 348.4M913.6 348.4L930.8 331.2" stroke="#ecb120" stroke-width="5.5" fill="none"/><path d="M958.3 327.6L975.5 344.8M958.3 344.8L975.5 327.6" stroke="#ecb120" stroke-width="5.5" fill="none"/><path d="M1003.1 325.7L1020.3 342.9M1003.1 342.9L1020.3 325.7" stroke="#ecb120" stroke-width="5.5" fill="none"/><path d="M1047.8 330.4L1065.0 347.6M1047.8 347.6L1065.0 330.4" stroke="#ecb120" stroke-width="5.5" fill="none"/><path d="M1092.5 322.1L1109.7 339.3M1092.5 339.3L1109.7 322.1" stroke="#ecb120" stroke-width="5.5" fill="none"/><path d="M1137.3 300.4L1154.5 317.6M1137.3 317.6L1154.5 300.4" stroke="#ecb120" stroke-width="5.5" fill="none"/><path d="M1182.0 330.9L1199.2 348.1M1182.0 348.1L1199.2 330.9" stroke="#ecb120" stroke-width="5.5" fill="none"/><path d="M1226.8 319.8L1244.0 337.0M1226.8 337.0L1244.0 319.8" stroke="#ecb120" stroke-width="5.5" fill="none"/><path d="M1271.5 345.0L1288.7 362.2M1271.5 362.2L1288.7 345.0" stroke="#ecb120" stroke-width="5.5" fill="none"/><path d="M1316.2 320.7L1333.4 337.9M1316.2 337.9L1333.4 320.7" stroke="#ecb120" stroke-width="5.5" fill="none"/><path d="M1361.0 326.8L1378.2 344.0M1361.0 344.0L1378.2 326.8" stroke="#ecb120" stroke-width="5.5" fill="none"/><path d="M1405.7 336.4L1422.9 353.6M1405.7 353.6L1422.9 336.4" stroke="#ecb120" stroke-width="5.5" fill="none"/><path d="M1450.5 340.1L1467.7 357.3M1450.5 357.3L1467.7 340.1" stroke="#ecb120" stroke-width="5.5" fill="none"/><path d="M1495.2 307.6L1512.4 324.8M1495.2 324.8L1512.4 307.6" stroke="#ecb120" stroke-width="5.5" fill="none"/><path d="M1540.0 343.3L1557.2 360.5M1540.0 360.5L1557.2 343.3" stroke="#ecb120" stroke-width="5.5" fill="none"/><path d="M1584.7 320.3L1601.9 337.5M1584.7 337.5L1601.9 320.3" stroke="#ecb120" stroke-width="5.5" fill="none"/><path d="M1629.4 329.7L1646.6 346.9M1629.4 346.9L1646.6 329.7" stroke="#ecb120" stroke-width="5.5" fill="none"/><path d="M1674.2 311.2L1691.4 328.4M1674.2 328.4L1691.4 311.2" stroke="#ecb120" stroke-width="5.5" fill="none"/><path d="M1718.9 315.2L1736.1 332.4M1718.9 332.4L1736.1 315.2" stroke="#ecb120" stroke-width="5.5" fill="none"/><path d="M1763.7 344.1L1780.9 361.3M1763.7 361.3L1780.9 344.1" stroke="#ecb120" stroke-width="5.5" fill="none"/><path d="M1808.4 316.4L1825.6 333.6M1808.4 333.6L1825.6 316.4" stroke="#ecb120" stroke-width="5.5" fill="none"/><path d="M1853.1 322.9L1870.3 340.1M1853.1 340.1L1870.3 322.9" stroke="#ecb120" stroke-width="5.5" fill="none"/><path d="M1897.9 310.0L1915.1 327.2M1897.9 327.2L1915.1 310.0" stroke="#ecb120" stroke-width="5.5" fill="none"/><path d="M1942.6 315.5L1959.8 332.7M1942.6 332.7L1959.8 315.5" stroke="#ecb120" stroke-width="5.5" fill="none"/><path d="M1987.4 326.5L2004.6 343.7M1987.4 343.7L2004.6 326.5" stroke="#ecb120" stroke-width="5.5" fill="none"/><path d="M2032.1 310.7L2049.3 327.9M2032.1 327.9L2049.3 310.7" stroke="#ecb120" stroke-width="5.5" fill="none"/><path d="M2076.9 324.2L2094.1 341.4M2076.9 341.4L2094.1 324.2" stroke="#ecb120" stroke-width="5.5" fill="none"/>
<polyline clip-path="url(#cm)" points="206.3,343.1 209.3,349.7 212.3,363.1 215.2,375.9 218.2,362.2 221.2,370.9 224.2,377.5 227.2,375.5 230.2,381.7 233.1,375.7 236.1,348.2 239.1,337.3 242.1,333.5 245.1,335.0 248.1,342.5 251.0,360.0 254.0,390.8 257.0,359.2 260.0,347.1 263.0,343.2 266.0,343.4 268.9,345.8 271.9,347.8 274.9,347.1 277.9,343.5 280.9,338.8 283.9,335.2 286.8,333.6 289.8,341.6 292.8,367.4 295.8,384.7 298.8,381.4 301.7,362.0 304.7,351.7 307.7,346.2 310.7,340.1 313.7,334.5 316.7,330.6 319.6,329.2 322.6,330.8 325.6,335.8 328.6,345.0 331.6,360.1 334.6,386.4 337.5,400.0 340.5,393.8 343.5,378.4 346.5,363.4 349.5,352.1 352.5,344.2 355.4,338.5 358.4,334.3 361.4,331.2 364.4,329.4 367.4,328.9 370.4,329.8 373.3,331.7 376.3,334.2 379.3,337.0 382.3,340.6 385.3,346.4 388.2,357.1 391.2,376.9 394.2,382.0 397.2,388.2 400.2,391.9 403.2,376.3 406.1,353.6 409.1,350.0 412.1,362.5 415.1,364.5 418.1,352.9 421.1,346.6 424.0,346.6 427.0,353.1 430.0,365.8 433.0,362.2 436.0,348.4 439.0,341.2 441.9,339.8 444.9,343.6 447.9,354.2 450.9,379.6 453.9,389.1 456.9,363.1 459.8,355.8 462.8,356.2 465.8,361.4 468.8,365.0 471.8,359.6 474.8,353.3 477.7,351.3 480.7,354.8 483.7,366.1 486.7,388.4 489.7,375.0 492.6,362.0 495.6,360.1 498.6,367.9 501.6,372.3 504.6,354.3 507.6,342.2 510.5,337.1 513.5,337.6 516.5,343.3 519.5,349.1 522.5,342.6 525.5,333.6 528.4,329.5 531.4,330.7 534.4,337.9 537.4,352.3 540.4,354.8 543.4,341.3 546.3,334.2 549.3,332.3 552.3,333.2 555.3,334.2 558.3,334.5 561.3,336.9 564.2,346.1 567.2,380.0 570.2,357.5 573.2,333.9 576.2,324.0 579.1,320.4 582.1,321.5 585.1,326.8 588.1,335.9 591.1,344.6 594.1,346.1 597.0,346.3 600.0,352.2 603.0,368.6 606.0,399.1 609.0,374.5 612.0,365.1 614.9,356.5 617.9,343.3 620.9,332.3 623.9,325.8 626.9,323.6 629.9,325.9 632.8,333.8 635.8,351.3 638.8,370.4 641.8,346.1 644.8,334.9 647.8,330.8 650.7,330.8 653.7,333.2 656.7,336.7 659.7,340.1 662.7,341.9 665.6,341.1 668.6,338.4 671.6,335.9 674.6,335.4 677.6,338.1 680.6,345.1 683.5,359.3 686.5,381.9 689.5,366.5 692.5,353.2 695.5,347.7 698.5,346.5 701.4,348.3 704.4,352.3 707.4,358.6 710.4,368.6 713.4,386.3 716.4,394.8 719.3,374.0 722.3,363.2 725.3,359.3 728.3,361.0 731.3,368.7 734.3,379.8 737.2,372.4 740.2,360.6 743.2,354.7 746.2,353.3 749.2,354.1 752.1,354.1 755.1,352.0 758.1,350.3 761.1,349.9 764.1,347.9 767.1,341.3 770.0,334.1 773.0,329.6 776.0,329.0 779.0,333.7 782.0,347.1 785.0,400.0 787.9,352.8 790.9,335.1 793.9,328.7 796.9,328.4 799.9,333.2 802.9,341.8 805.8,345.6 808.8,339.5 811.8,334.6 814.8,334.1 817.8,337.6 820.8,343.0 823.7,345.0 826.7,342.3 829.7,340.0 832.7,340.1 835.7,341.9 838.7,343.1 841.6,342.9 844.6,343.2 847.6,346.1 850.6,352.5 853.6,360.1 856.5,360.7 859.5,356.3 862.5,354.7 865.5,356.3 868.5,355.4 871.5,347.5 874.4,338.6 877.4,332.4 880.4,329.3 883.4,329.0 886.4,331.7 889.4,337.5 892.3,346.3 895.3,353.1 898.3,349.8 901.3,344.1 904.3,342.1 907.3,345.1 910.2,354.4 913.2,368.3 916.2,357.5 919.2,343.7 922.2,336.7 925.2,334.6 928.1,336.7 931.1,342.9 934.1,352.9 937.1,363.8 940.1,368.9 943.0,374.2 946.0,385.6 949.0,369.1 952.0,351.3 955.0,341.5 958.0,336.9 960.9,336.1 963.9,338.0 966.9,340.9 969.9,342.8 972.9,343.7 975.9,344.4 978.8,344.0 981.8,340.3 984.8,334.8 987.8,330.6 990.8,329.0 993.8,329.9 996.7,331.8 999.7,331.9 1002.7,329.1 1005.7,326.1 1008.7,325.2 1011.7,327.0 1014.6,331.8 1017.6,339.4 1020.6,348.8 1023.6,356.7 1026.6,357.4 1029.5,351.7 1032.5,345.3 1035.5,341.3 1038.5,341.2 1041.5,346.2 1044.5,358.5 1047.4,374.5 1050.4,360.3 1053.4,349.8 1056.4,347.7 1059.4,353.3 1062.4,370.6 1065.3,391.8 1068.3,363.4 1071.3,353.3 1074.3,351.8 1077.3,356.5 1080.3,367.0 1083.2,381.9 1086.2,393.3 1089.2,390.9 1092.2,372.7 1095.2,353.8 1098.2,338.3 1101.1,333.6 1104.1,347.5 1107.1,384.1 1110.1,364.5 1113.1,348.3 1116.0,341.5 1119.0,340.8 1122.0,344.0 1125.0,344.3 1128.0,337.2 1131.0,330.0 1133.9,326.0 1136.9,323.2 1139.9,317.6 1142.9,314.0 1145.9,334.6 1148.9,312.8 1151.8,318.9 1154.8,325.7 1157.8,328.3 1160.8,330.7 1163.8,335.3 1166.8,343.6 1169.7,358.8 1172.7,366.4 1175.7,347.3 1178.7,335.4 1181.7,327.6 1184.7,318.9 1187.6,310.2 1190.6,315.2 1193.6,353.3 1196.6,358.0 1199.6,347.9 1202.6,345.3 1205.5,346.8 1208.5,351.5 1211.5,355.6 1214.5,356.1 1217.5,356.7 1220.4,360.0 1223.4,359.8 1226.4,349.2 1229.4,336.7 1232.4,326.4 1235.4,321.3 1238.3,323.7 1241.3,330.7 1244.3,338.7 1247.3,347.1 1250.3,356.5 1253.3,365.5 1256.2,371.1 1259.2,371.8 1262.2,369.3 1265.2,366.8 1268.2,365.7 1271.2,363.9 1274.1,353.6 1277.1,368.3 1280.1,410.3 1283.1,506.4 1286.1,411.6 1289.1,356.5 1292.0,322.5 1295.0,323.3 1298.0,325.4 1301.0,328.9 1304.0,333.4 1306.9,338.6 1309.9,343.5 1312.9,345.9 1315.9,344.8 1318.9,342.0 1321.9,369.4 1324.8,416.0 1327.8,461.4 1330.8,432.1 1333.8,412.3 1336.8,369.7 1339.8,349.8 1342.7,340.2 1345.7,335.8 1348.7,334.9 1351.7,336.8 1354.7,341.5 1357.7,348.2 1360.6,354.3 1363.6,356.5 1366.6,344.9 1369.6,310.1 1372.6,310.7 1375.6,331.4 1378.5,343.9 1381.5,345.2 1384.5,342.5 1387.5,339.5 1390.5,337.3 1393.4,336.1 1396.4,335.7 1399.4,335.8 1402.4,365.1 1405.4,411.2 1408.4,453.2 1411.3,417.1 1414.3,378.4 1417.3,357.9 1420.3,359.4 1423.3,353.2 1426.3,349.0 1429.2,349.9 1432.2,357.2 1435.2,370.7 1438.2,360.6 1441.2,343.9 1444.2,329.4 1447.1,334.4 1450.1,341.5 1453.1,353.8 1456.1,358.3 1459.1,347.6 1462.1,338.9 1465.0,341.5 1468.0,354.5 1471.0,366.0 1474.0,367.9 1477.0,360.9 1479.9,358.3 1482.9,364.7 1485.9,366.7 1488.9,327.8 1491.9,296.9 1494.9,272.2 1497.8,258.0 1500.8,250.2 1503.8,252.9 1506.8,262.0 1509.8,280.1 1512.8,307.1 1515.7,330.5 1518.7,337.5 1521.7,336.9 1524.7,340.8 1527.7,344.6 1530.7,342.7 1533.6,334.3 1536.6,327.8 1539.6,328.4 1542.6,336.9 1545.6,342.3 1548.6,340.1 1551.5,346.6 1554.5,358.3 1557.5,385.5 1560.5,426.8 1563.5,388.1 1566.5,362.2 1569.4,344.1 1572.4,337.7 1575.4,339.6 1578.4,340.2 1581.4,339.2 1584.3,346.7 1587.3,348.7 1590.3,348.0 1593.3,348.9 1596.3,351.4 1599.3,353.3 1602.2,353.8 1605.2,354.7 1608.2,357.0 1611.2,359.0 1614.2,358.7 1617.2,357.2 1620.1,355.4 1623.1,350.5 1626.1,342.3 1629.1,334.5 1632.1,329.3 1635.1,327.1 1638.0,328.0 1641.0,332.1 1644.0,339.5 1647.0,347.4 1650.0,361.2 1653.0,381.9 1655.9,391.9 1658.9,375.3 1661.9,349.5 1664.9,340.5 1667.9,351.1 1670.8,371.8 1673.8,376.8 1676.8,348.9 1679.8,329.2 1682.8,318.2 1685.8,319.4 1688.7,326.9 1691.7,334.4 1694.7,342.0 1697.7,350.9 1700.7,350.2 1703.7,339.8 1706.6,332.0 1709.6,328.3 1712.6,328.1 1715.6,331.0 1718.6,336.3 1721.6,342.2 1724.5,346.3 1727.5,349.3 1730.5,354.9 1733.5,365.5 1736.5,369.7 1739.5,381.4 1742.4,411.1 1745.4,435.8 1748.4,411.7 1751.4,385.4 1754.4,383.7 1757.3,357.6 1760.3,342.6 1763.3,336.2 1766.3,335.7 1769.3,340.9 1772.3,354.0 1775.2,363.3 1778.2,348.4 1781.2,339.9 1784.2,338.6 1787.2,344.0 1790.2,358.2 1793.1,368.8 1796.1,351.7 1799.1,342.3 1802.1,339.8 1805.1,341.8 1808.1,347.3 1811.0,356.9 1814.0,371.0 1817.0,385.7 1820.0,409.2 1823.0,380.9 1826.0,351.4 1828.9,340.2 1831.9,338.0 1834.9,341.9 1837.9,351.5 1840.9,361.2 1843.8,358.4 1846.8,357.1 1849.8,369.6 1852.8,392.1 1855.8,354.8 1858.8,345.1 1861.7,340.7 1864.7,334.6 1867.7,329.9 1870.7,332.5 1873.7,344.6 1876.7,364.6 1879.6,354.2 1882.6,342.8 1885.6,339.8 1888.6,343.1 1891.6,352.6 1894.6,363.0 1897.5,355.5 1900.5,346.6 1903.5,343.7 1906.5,346.5 1909.5,353.6 1912.5,354.5 1915.4,343.7 1918.4,334.4 1921.4,328.6 1924.4,325.5 1927.4,324.6 1930.4,325.8 1933.3,329.6 1936.3,336.8 1939.3,343.7 1942.3,338.6 1945.3,329.2 1948.2,323.8 1951.2,323.3 1954.2,328.1 1957.2,340.0 1960.2,352.4 1963.2,338.4 1966.1,327.6 1969.1,323.6 1972.1,324.8 1975.1,331.0 1978.1,342.7 1981.1,361.0 1984.0,381.1 1987.0,396.2 1990.0,388.8 1993.0,361.5 1996.0,348.8 1999.0,344.3 2001.9,345.7 2004.9,348.6 2007.9,343.0 2010.9,333.9 2013.9,328.3 2016.9,327.1 2019.8,330.6 2022.8,339.5 2025.8,356.9 2028.8,389.2 2031.8,370.0 2034.7,351.4 2037.7,332.7 2040.7,318.2 2043.7,316.1 2046.7,351.9 2049.7,405.5 2052.6,456.9 2055.6,421.2 2058.6,386.2 2061.6,361.1 2064.6,356.4 2067.6,353.1 2070.5,350.3 2073.5,345.6 2076.5,338.5 2079.5,327.6 2082.5,314.7 2085.5,312.1 2088.4,329.5 2091.4,358.5 2094.4,372.2 2097.4,363.2 2100.4,354.6 2103.4,348.3 2106.3,343.8 2109.3,341.1 2112.3,340.6" fill="none" stroke="#d95319" stroke-width="7.1" stroke-linejoin="round" stroke-linecap="round"/>
<path d="M206.3 328.6L216.0 343.1L206.3 357.6L196.6 343.1Z" stroke="#d95319" stroke-width="7.1" fill="none" stroke-miterlimit="10"/><path d="M251.0 345.5L260.7 360.0L251.0 374.5L241.3 360.0Z" stroke="#d95319" stroke-width="7.1" fill="none" stroke-miterlimit="10"/><path d="M295.8 370.2L305.5 384.7L295.8 399.2L286.1 384.7Z" stroke="#d95319" stroke-width="7.1" fill="none" stroke-miterlimit="10"/><path d="M340.5 379.3L350.2 393.8L340.5 408.3L330.8 393.8Z" stroke="#d95319" stroke-width="7.1" fill="none" stroke-miterlimit="10"/><path d="M385.3 331.9L395.0 346.4L385.3 360.9L375.6 346.4Z" stroke="#d95319" stroke-width="7.1" fill="none" stroke-miterlimit="10"/><path d="M430.0 351.3L439.7 365.8L430.0 380.3L420.3 365.8Z" stroke="#d95319" stroke-width="7.1" fill="none" stroke-miterlimit="10"/><path d="M474.8 338.8L484.5 353.3L474.8 367.8L465.1 353.3Z" stroke="#d95319" stroke-width="7.1" fill="none" stroke-miterlimit="10"/><path d="M519.5 334.6L529.2 349.1L519.5 363.6L509.8 349.1Z" stroke="#d95319" stroke-width="7.1" fill="none" stroke-miterlimit="10"/><path d="M564.2 331.6L573.9 346.1L564.2 360.6L554.5 346.1Z" stroke="#d95319" stroke-width="7.1" fill="none" stroke-miterlimit="10"/><path d="M609.0 360.0L618.7 374.5L609.0 389.0L599.3 374.5Z" stroke="#d95319" stroke-width="7.1" fill="none" stroke-miterlimit="10"/><path d="M653.7 318.7L663.4 333.2L653.7 347.7L644.0 333.2Z" stroke="#d95319" stroke-width="7.1" fill="none" stroke-miterlimit="10"/><path d="M698.5 332.0L708.2 346.5L698.5 361.0L688.8 346.5Z" stroke="#d95319" stroke-width="7.1" fill="none" stroke-miterlimit="10"/><path d="M743.2 340.2L752.9 354.7L743.2 369.2L733.5 354.7Z" stroke="#d95319" stroke-width="7.1" fill="none" stroke-miterlimit="10"/><path d="M787.9 338.3L797.6 352.8L787.9 367.3L778.2 352.8Z" stroke="#d95319" stroke-width="7.1" fill="none" stroke-miterlimit="10"/><path d="M832.7 325.6L842.4 340.1L832.7 354.6L823.0 340.1Z" stroke="#d95319" stroke-width="7.1" fill="none" stroke-miterlimit="10"/><path d="M877.4 317.9L887.1 332.4L877.4 346.9L867.7 332.4Z" stroke="#d95319" stroke-width="7.1" fill="none" stroke-miterlimit="10"/><path d="M922.2 322.2L931.9 336.7L922.2 351.2L912.5 336.7Z" stroke="#d95319" stroke-width="7.1" fill="none" stroke-miterlimit="10"/><path d="M966.9 326.4L976.6 340.9L966.9 355.4L957.2 340.9Z" stroke="#d95319" stroke-width="7.1" fill="none" stroke-miterlimit="10"/><path d="M1011.7 312.5L1021.4 327.0L1011.7 341.5L1002.0 327.0Z" stroke="#d95319" stroke-width="7.1" fill="none" stroke-miterlimit="10"/><path d="M1056.4 333.2L1066.1 347.7L1056.4 362.2L1046.7 347.7Z" stroke="#d95319" stroke-width="7.1" fill="none" stroke-miterlimit="10"/><path d="M1101.1 319.1L1110.8 333.6L1101.1 348.1L1091.4 333.6Z" stroke="#d95319" stroke-width="7.1" fill="none" stroke-miterlimit="10"/><path d="M1145.9 320.1L1155.6 334.6L1145.9 349.1L1136.2 334.6Z" stroke="#d95319" stroke-width="7.1" fill="none" stroke-miterlimit="10"/><path d="M1190.6 300.7L1200.3 315.2L1190.6 329.7L1180.9 315.2Z" stroke="#d95319" stroke-width="7.1" fill="none" stroke-miterlimit="10"/><path d="M1235.4 306.8L1245.1 321.3L1235.4 335.8L1225.7 321.3Z" stroke="#d95319" stroke-width="7.1" fill="none" stroke-miterlimit="10"/><path d="M1280.1 395.8L1289.8 410.3L1280.1 424.8L1270.4 410.3Z" stroke="#d95319" stroke-width="7.1" fill="none" stroke-miterlimit="10"/><path d="M1324.8 401.5L1334.5 416.0L1324.8 430.5L1315.1 416.0Z" stroke="#d95319" stroke-width="7.1" fill="none" stroke-miterlimit="10"/><path d="M1369.6 295.6L1379.3 310.1L1369.6 324.6L1359.9 310.1Z" stroke="#d95319" stroke-width="7.1" fill="none" stroke-miterlimit="10"/><path d="M1414.3 363.9L1424.0 378.4L1414.3 392.9L1404.6 378.4Z" stroke="#d95319" stroke-width="7.1" fill="none" stroke-miterlimit="10"/><path d="M1459.1 333.1L1468.8 347.6L1459.1 362.1L1449.4 347.6Z" stroke="#d95319" stroke-width="7.1" fill="none" stroke-miterlimit="10"/><path d="M1503.8 238.4L1513.5 252.9L1503.8 267.4L1494.1 252.9Z" stroke="#d95319" stroke-width="7.1" fill="none" stroke-miterlimit="10"/><path d="M1548.6 325.6L1558.3 340.1L1548.6 354.6L1538.9 340.1Z" stroke="#d95319" stroke-width="7.1" fill="none" stroke-miterlimit="10"/><path d="M1593.3 334.4L1603.0 348.9L1593.3 363.4L1583.6 348.9Z" stroke="#d95319" stroke-width="7.1" fill="none" stroke-miterlimit="10"/><path d="M1638.0 313.5L1647.7 328.0L1638.0 342.5L1628.3 328.0Z" stroke="#d95319" stroke-width="7.1" fill="none" stroke-miterlimit="10"/><path d="M1682.8 303.7L1692.5 318.2L1682.8 332.7L1673.1 318.2Z" stroke="#d95319" stroke-width="7.1" fill="none" stroke-miterlimit="10"/><path d="M1727.5 334.8L1737.2 349.3L1727.5 363.8L1717.8 349.3Z" stroke="#d95319" stroke-width="7.1" fill="none" stroke-miterlimit="10"/><path d="M1772.3 339.5L1782.0 354.0L1772.3 368.5L1762.6 354.0Z" stroke="#d95319" stroke-width="7.1" fill="none" stroke-miterlimit="10"/><path d="M1817.0 371.2L1826.7 385.7L1817.0 400.2L1807.3 385.7Z" stroke="#d95319" stroke-width="7.1" fill="none" stroke-miterlimit="10"/><path d="M1861.7 326.2L1871.4 340.7L1861.7 355.2L1852.0 340.7Z" stroke="#d95319" stroke-width="7.1" fill="none" stroke-miterlimit="10"/><path d="M1906.5 332.0L1916.2 346.5L1906.5 361.0L1896.8 346.5Z" stroke="#d95319" stroke-width="7.1" fill="none" stroke-miterlimit="10"/><path d="M1951.2 308.8L1960.9 323.3L1951.2 337.8L1941.5 323.3Z" stroke="#d95319" stroke-width="7.1" fill="none" stroke-miterlimit="10"/><path d="M1996.0 334.3L2005.7 348.8L1996.0 363.3L1986.3 348.8Z" stroke="#d95319" stroke-width="7.1" fill="none" stroke-miterlimit="10"/><path d="M2040.7 303.7L2050.4 318.2L2040.7 332.7L2031.0 318.2Z" stroke="#d95319" stroke-width="7.1" fill="none" stroke-miterlimit="10"/><path d="M2085.5 297.6L2095.2 312.1L2085.5 326.6L2075.8 312.1Z" stroke="#d95319" stroke-width="7.1" fill="none" stroke-miterlimit="10"/>
<polyline clip-path="url(#cm)" points="206.3,348.9 209.3,339.0 212.3,327.1 215.2,321.5 218.2,322.6 221.2,328.0 224.2,336.4 227.2,347.3 230.2,359.9 233.1,371.9 236.1,380.4 239.1,384.2 242.1,382.5 245.1,368.0 248.1,339.2 251.0,319.3 254.0,331.2 257.0,359.2 260.0,380.3 263.0,404.1 266.0,410.1 268.9,396.9 271.9,376.0 274.9,377.0 277.9,387.7 280.9,403.7 283.9,410.8 286.8,400.0 289.8,383.5 292.8,378.2 295.8,317.2 298.8,299.8 301.7,351.3 304.7,417.2 307.7,478.2 310.7,427.2 313.7,377.2 316.7,367.8 319.6,405.3 322.6,451.2 325.6,399.3 328.6,349.9 331.6,323.3 334.6,343.9 337.5,376.6 340.5,403.1 343.5,391.1 346.5,376.7 349.5,408.6 352.5,460.1 355.4,494.1 358.4,418.9 361.4,354.9 364.4,318.2 367.4,318.2 370.4,318.2 373.3,317.8 376.3,320.2 379.3,322.8 382.3,322.4 385.3,326.4 388.2,342.3 391.2,362.9 394.2,391.4 397.2,416.8 400.2,436.8 403.2,392.0 406.1,346.7 409.1,324.7 412.1,340.8 415.1,364.9 418.1,349.8 421.1,329.4 424.0,325.1 427.0,333.0 430.0,342.8 433.0,358.5 436.0,397.9 439.0,377.3 441.9,344.7 444.9,333.9 447.9,333.9 450.9,341.8 453.9,386.0 456.9,444.1 459.8,488.0 462.8,428.3 465.8,370.0 468.8,331.9 471.8,327.3 474.8,326.4 477.7,324.6 480.7,321.2 483.7,324.8 486.7,338.2 489.7,362.2 492.6,403.9 495.6,396.7 498.6,372.7 501.6,363.1 504.6,359.4 507.6,358.0 510.5,358.7 513.5,364.0 516.5,377.3 519.5,390.4 522.5,370.6 525.5,349.4 528.4,337.8 531.4,334.0 534.4,337.1 537.4,347.3 540.4,362.7 543.4,367.7 546.3,354.7 549.3,341.9 552.3,333.3 555.3,328.3 558.3,326.7 561.3,329.7 564.2,339.5 567.2,361.0 570.2,406.6 573.2,376.0 576.2,347.9 579.1,334.8 582.1,327.6 585.1,321.9 588.1,318.2 591.1,318.2 594.1,318.2 597.0,318.2 600.0,326.7 603.0,344.7 606.0,373.5 609.0,411.5 612.0,408.8 614.9,383.3 617.9,359.2 620.9,342.5 623.9,334.0 626.9,333.2 629.9,339.0 632.8,347.2 635.8,346.8 638.8,340.2 641.8,338.8 644.8,347.5 647.8,366.6 650.7,359.8 653.7,336.2 656.7,323.8 659.7,321.6 662.7,329.5 665.6,350.1 668.6,372.3 671.6,347.4 674.6,329.2 677.6,322.5 680.6,324.0 683.5,332.4 686.5,347.5 689.5,370.7 692.5,409.6 695.5,451.2 698.5,392.0 701.4,367.3 704.4,354.5 707.4,348.8 710.4,347.9 713.4,350.0 716.4,354.4 719.3,362.2 722.3,377.3 725.3,409.5 728.3,432.3 731.3,391.6 734.3,375.6 737.2,369.9 740.2,365.6 743.2,358.9 746.2,353.7 749.2,355.4 752.1,367.6 755.1,378.1 758.1,352.8 761.1,330.7 764.1,318.8 767.1,318.2 770.0,318.6 773.0,330.8 776.0,354.1 779.0,370.7 782.0,348.8 785.0,333.7 787.9,327.8 790.9,328.0 793.9,331.9 796.9,337.5 799.9,343.1 802.9,347.8 805.8,352.3 808.8,357.6 811.8,364.9 814.8,374.9 817.8,385.0 820.8,384.2 823.7,372.6 826.7,360.3 829.7,349.5 832.7,340.2 835.7,333.0 838.7,329.0 841.6,329.6 844.6,336.1 847.6,350.9 850.6,378.1 853.6,389.0 856.5,361.7 859.5,345.5 862.5,337.4 865.5,333.8 868.5,333.9 871.5,338.4 874.4,349.8 877.4,375.3 880.4,451.2 883.4,388.1 886.4,364.3 889.4,362.6 892.3,383.1 895.3,444.5 898.3,362.0 901.3,334.8 904.3,322.6 907.3,319.7 910.2,325.2 913.2,341.0 916.2,370.4 919.2,366.1 922.2,340.3 925.2,327.9 928.1,324.8 931.1,329.1 934.1,341.3 937.1,362.5 940.1,376.7 943.0,358.5 946.0,343.9 949.0,338.4 952.0,340.5 955.0,350.0 958.0,365.5 960.9,373.6 963.9,365.3 966.9,359.8 969.9,363.7 972.9,374.9 975.9,370.5 978.8,350.5 981.8,336.9 984.8,331.5 987.8,334.0 990.8,345.4 993.8,368.3 996.7,384.9 999.7,363.8 1002.7,350.6 1005.7,347.6 1008.7,349.3 1011.7,346.3 1014.6,336.0 1017.6,326.7 1020.6,322.9 1023.6,326.1 1026.6,338.2 1029.5,363.2 1032.5,373.4 1035.5,345.1 1038.5,328.9 1041.5,322.1 1044.5,321.3 1047.4,323.7 1050.4,326.1 1053.4,326.8 1056.4,327.6 1059.4,332.0 1062.4,342.7 1065.3,363.6 1068.3,430.7 1071.3,481.7 1074.3,544.2 1077.3,472.0 1080.3,441.5 1083.2,379.8 1086.2,382.8 1089.2,425.7 1092.2,589.8 1095.2,428.2 1098.2,382.7 1101.1,360.2 1104.1,365.3 1107.1,372.6 1110.1,391.6 1113.1,378.6 1116.0,363.1 1119.0,360.0 1122.0,367.6 1125.0,386.6 1128.0,406.3 1131.0,390.8 1133.9,374.7 1136.9,363.9 1139.9,378.9 1142.9,408.0 1145.9,429.7 1148.9,393.7 1151.8,353.2 1154.8,333.3 1157.8,346.1 1160.8,362.4 1163.8,364.5 1166.8,354.0 1169.7,348.2 1172.7,350.4 1175.7,362.0 1178.7,388.2 1181.7,414.6 1184.7,373.2 1187.6,347.7 1190.6,334.6 1193.6,331.6 1196.6,335.2 1199.6,340.7 1202.6,343.2 1205.5,338.4 1208.5,330.4 1211.5,325.0 1214.5,324.4 1217.5,329.4 1220.4,341.1 1223.4,395.6 1226.4,481.9 1229.4,581.0 1232.4,502.5 1235.4,450.1 1238.3,404.0 1241.3,380.3 1244.3,363.4 1247.3,358.1 1250.3,362.4 1253.3,376.5 1256.2,403.4 1259.2,416.3 1262.2,391.0 1265.2,375.2 1268.2,366.0 1271.2,359.9 1274.1,356.6 1277.1,356.5 1280.1,357.1 1283.1,356.7 1286.1,358.5 1289.1,367.4 1292.0,388.8 1295.0,446.2 1298.0,414.8 1301.0,381.8 1304.0,392.2 1306.9,426.3 1309.9,453.2 1312.9,426.3 1315.9,376.4 1318.9,340.4 1321.9,331.9 1324.8,329.5 1327.8,333.9 1330.8,346.0 1333.8,369.0 1336.8,410.4 1339.8,390.3 1342.7,366.1 1345.7,357.4 1348.7,358.4 1351.7,367.7 1354.7,385.7 1357.7,404.4 1360.6,395.5 1363.6,377.1 1366.6,362.2 1369.6,357.1 1372.6,363.6 1375.6,370.0 1378.5,366.4 1381.5,355.9 1384.5,344.6 1387.5,336.0 1390.5,331.4 1393.4,331.4 1396.4,336.8 1399.4,348.4 1402.4,365.1 1405.4,373.1 1408.4,367.0 1411.3,365.2 1414.3,369.4 1417.3,378.2 1420.3,398.4 1423.3,426.6 1426.3,398.6 1429.2,380.9 1432.2,374.0 1435.2,370.8 1438.2,364.9 1441.2,355.2 1444.2,344.4 1447.1,351.9 1450.1,360.9 1453.1,367.3 1456.1,351.9 1459.1,333.7 1462.1,338.0 1465.0,349.2 1468.0,382.2 1471.0,362.2 1474.0,319.6 1477.0,306.6 1479.9,315.6 1482.9,376.5 1485.9,357.2 1488.9,255.5 1491.9,212.0 1494.9,186.1 1497.8,173.1 1500.8,166.7 1503.8,172.8 1506.8,186.1 1509.8,206.7 1512.8,228.8 1515.7,268.4 1518.7,311.0 1521.7,365.8 1524.7,423.4 1527.7,442.0 1530.7,423.4 1533.6,408.9 1536.6,406.8 1539.6,405.8 1542.6,399.6 1545.6,389.4 1548.6,375.1 1551.5,362.2 1554.5,354.5 1557.5,346.6 1560.5,336.4 1563.5,332.4 1566.5,332.4 1569.4,338.9 1572.4,364.7 1575.4,402.3 1578.4,438.6 1581.4,386.1 1584.3,401.2 1587.3,377.0 1590.3,356.7 1593.3,345.9 1596.3,340.5 1599.3,340.1 1602.2,344.6 1605.2,350.5 1608.2,350.8 1611.2,344.0 1614.2,336.0 1617.2,330.6 1620.1,329.3 1623.1,333.0 1626.1,343.2 1629.1,362.6 1632.1,385.8 1635.1,375.2 1638.0,360.2 1641.0,354.3 1644.0,356.2 1647.0,364.6 1650.0,374.5 1653.0,377.4 1655.9,370.3 1658.9,355.0 1661.9,337.9 1664.9,355.5 1667.9,398.9 1670.8,450.0 1673.8,398.0 1676.8,351.6 1679.8,331.1 1682.8,346.9 1685.8,386.7 1688.7,433.7 1691.7,475.8 1694.7,431.5 1697.7,375.6 1700.7,334.9 1703.7,327.3 1706.6,324.7 1709.6,327.3 1712.6,335.0 1715.6,348.6 1718.6,369.8 1721.6,401.7 1724.5,432.5 1727.5,427.6 1730.5,410.3 1733.5,392.7 1736.5,378.8 1739.5,368.9 1742.4,362.1 1745.4,358.5 1748.4,357.9 1751.4,359.2 1754.4,359.4 1757.3,356.1 1760.3,350.6 1763.3,343.4 1766.3,331.6 1769.3,316.8 1772.3,315.2 1775.2,339.0 1778.2,376.2 1781.2,402.0 1784.2,395.9 1787.2,378.8 1790.2,364.6 1793.1,354.8 1796.1,349.3 1799.1,348.5 1802.1,353.2 1805.1,364.4 1808.1,376.9 1811.0,367.4 1814.0,348.0 1817.0,334.6 1820.0,327.5 1823.0,324.9 1826.0,325.1 1828.9,326.7 1831.9,328.8 1834.9,331.5 1837.9,335.7 1840.9,341.9 1843.8,349.5 1846.8,356.3 1849.8,362.6 1852.8,373.9 1855.8,398.1 1858.8,410.0 1861.7,382.7 1864.7,359.9 1867.7,344.5 1870.7,339.4 1873.7,344.6 1876.7,360.4 1879.6,392.5 1882.6,410.3 1885.6,375.2 1888.6,357.6 1891.6,348.5 1894.6,344.2 1897.5,343.1 1900.5,364.5 1903.5,399.5 1906.5,418.4 1909.5,392.6 1912.5,353.6 1915.4,330.7 1918.4,332.8 1921.4,341.7 1924.4,360.4 1927.4,389.0 1930.4,376.0 1933.3,353.1 1936.3,341.7 1939.3,337.3 1942.3,334.9 1945.3,328.3 1948.2,319.5 1951.2,328.5 1954.2,353.3 1957.2,356.9 1960.2,353.9 1963.2,348.0 1966.1,343.3 1969.1,341.5 1972.1,377.6 1975.1,439.8 1978.1,574.9 1981.1,444.6 1984.0,386.1 1987.0,352.8 1990.0,359.3 1993.0,370.1 1996.0,376.5 1999.0,370.8 2001.9,358.0 2004.9,346.2 2007.9,337.2 2010.9,330.7 2013.9,326.7 2016.9,326.0 2019.8,329.2 2022.8,337.8 2025.8,354.5 2028.8,388.7 2031.8,414.1 2034.7,364.4 2037.7,340.0 2040.7,360.2 2043.7,411.3 2046.7,472.4 2049.7,437.5 2052.6,412.0 2055.6,412.9 2058.6,429.4 2061.6,456.9 2064.6,489.0 2067.6,456.0 2070.5,399.5 2073.5,352.4 2076.5,337.8 2079.5,342.8 2082.5,366.4 2085.5,382.7 2088.4,375.9 2091.4,363.3 2094.4,396.6 2097.4,456.1 2100.4,469.6 2103.4,425.0 2106.3,374.4 2109.3,340.2 2112.3,331.8" fill="none" stroke="#77ac30" stroke-width="6.9" stroke-linejoin="round" stroke-linecap="butt" stroke-dasharray="6.8 5.2"/>
<path d="M206.3 334.2L218.8 356.8L193.8 356.8Z" stroke="#77ac30" stroke-width="6.9" fill="none" stroke-miterlimit="10"/><path d="M251.0 304.6L263.5 327.1L238.5 327.1Z" stroke="#77ac30" stroke-width="6.9" fill="none" stroke-miterlimit="10"/><path d="M295.8 302.5L308.3 325.1L283.3 325.1Z" stroke="#77ac30" stroke-width="6.9" fill="none" stroke-miterlimit="10"/><path d="M340.5 388.4L353.0 411.0L328.0 411.0Z" stroke="#77ac30" stroke-width="6.9" fill="none" stroke-miterlimit="10"/><path d="M385.3 311.7L397.8 334.3L372.8 334.3Z" stroke="#77ac30" stroke-width="6.9" fill="none" stroke-miterlimit="10"/><path d="M430.0 328.1L442.5 350.6L417.5 350.6Z" stroke="#77ac30" stroke-width="6.9" fill="none" stroke-miterlimit="10"/><path d="M474.8 311.7L487.3 334.3L462.3 334.3Z" stroke="#77ac30" stroke-width="6.9" fill="none" stroke-miterlimit="10"/><path d="M519.5 375.7L532.0 398.2L507.0 398.2Z" stroke="#77ac30" stroke-width="6.9" fill="none" stroke-miterlimit="10"/><path d="M564.2 324.8L576.7 347.3L551.7 347.3Z" stroke="#77ac30" stroke-width="6.9" fill="none" stroke-miterlimit="10"/><path d="M609.0 396.8L621.5 419.4L596.5 419.4Z" stroke="#77ac30" stroke-width="6.9" fill="none" stroke-miterlimit="10"/><path d="M653.7 321.5L666.2 344.0L641.2 344.0Z" stroke="#77ac30" stroke-width="6.9" fill="none" stroke-miterlimit="10"/><path d="M698.5 377.3L711.0 399.8L686.0 399.8Z" stroke="#77ac30" stroke-width="6.9" fill="none" stroke-miterlimit="10"/><path d="M743.2 344.2L755.7 366.7L730.7 366.7Z" stroke="#77ac30" stroke-width="6.9" fill="none" stroke-miterlimit="10"/><path d="M787.9 313.1L800.4 335.7L775.4 335.7Z" stroke="#77ac30" stroke-width="6.9" fill="none" stroke-miterlimit="10"/><path d="M832.7 325.5L845.2 348.1L820.2 348.1Z" stroke="#77ac30" stroke-width="6.9" fill="none" stroke-miterlimit="10"/><path d="M877.4 360.6L889.9 383.2L864.9 383.2Z" stroke="#77ac30" stroke-width="6.9" fill="none" stroke-miterlimit="10"/><path d="M922.2 325.6L934.7 348.2L909.7 348.2Z" stroke="#77ac30" stroke-width="6.9" fill="none" stroke-miterlimit="10"/><path d="M966.9 345.1L979.4 367.6L954.4 367.6Z" stroke="#77ac30" stroke-width="6.9" fill="none" stroke-miterlimit="10"/><path d="M1011.7 331.6L1024.2 354.2L999.2 354.2Z" stroke="#77ac30" stroke-width="6.9" fill="none" stroke-miterlimit="10"/><path d="M1056.4 312.9L1068.9 335.5L1043.9 335.5Z" stroke="#77ac30" stroke-width="6.9" fill="none" stroke-miterlimit="10"/><path d="M1101.1 345.5L1113.6 368.0L1088.6 368.0Z" stroke="#77ac30" stroke-width="6.9" fill="none" stroke-miterlimit="10"/><path d="M1145.9 415.0L1158.4 437.5L1133.4 437.5Z" stroke="#77ac30" stroke-width="6.9" fill="none" stroke-miterlimit="10"/><path d="M1190.6 319.9L1203.1 342.5L1178.1 342.5Z" stroke="#77ac30" stroke-width="6.9" fill="none" stroke-miterlimit="10"/><path d="M1235.4 435.4L1247.9 458.0L1222.9 458.0Z" stroke="#77ac30" stroke-width="6.9" fill="none" stroke-miterlimit="10"/><path d="M1280.1 342.4L1292.6 364.9L1267.6 364.9Z" stroke="#77ac30" stroke-width="6.9" fill="none" stroke-miterlimit="10"/><path d="M1324.8 314.8L1337.3 337.3L1312.3 337.3Z" stroke="#77ac30" stroke-width="6.9" fill="none" stroke-miterlimit="10"/><path d="M1369.6 342.4L1382.1 364.9L1357.1 364.9Z" stroke="#77ac30" stroke-width="6.9" fill="none" stroke-miterlimit="10"/><path d="M1414.3 354.7L1426.8 377.2L1401.8 377.2Z" stroke="#77ac30" stroke-width="6.9" fill="none" stroke-miterlimit="10"/><path d="M1459.1 319.0L1471.6 341.5L1446.6 341.5Z" stroke="#77ac30" stroke-width="6.9" fill="none" stroke-miterlimit="10"/><path d="M1503.8 158.1L1516.3 180.7L1491.3 180.7Z" stroke="#77ac30" stroke-width="6.9" fill="none" stroke-miterlimit="10"/><path d="M1548.6 360.4L1561.1 383.0L1536.1 383.0Z" stroke="#77ac30" stroke-width="6.9" fill="none" stroke-miterlimit="10"/><path d="M1593.3 331.2L1605.8 353.7L1580.8 353.7Z" stroke="#77ac30" stroke-width="6.9" fill="none" stroke-miterlimit="10"/><path d="M1638.0 345.5L1650.5 368.0L1625.5 368.0Z" stroke="#77ac30" stroke-width="6.9" fill="none" stroke-miterlimit="10"/><path d="M1682.8 332.2L1695.3 354.7L1670.3 354.7Z" stroke="#77ac30" stroke-width="6.9" fill="none" stroke-miterlimit="10"/><path d="M1727.5 412.9L1740.0 435.5L1715.0 435.5Z" stroke="#77ac30" stroke-width="6.9" fill="none" stroke-miterlimit="10"/><path d="M1772.3 300.5L1784.8 323.0L1759.8 323.0Z" stroke="#77ac30" stroke-width="6.9" fill="none" stroke-miterlimit="10"/><path d="M1817.0 319.9L1829.5 342.5L1804.5 342.5Z" stroke="#77ac30" stroke-width="6.9" fill="none" stroke-miterlimit="10"/><path d="M1861.7 368.0L1874.2 390.5L1849.2 390.5Z" stroke="#77ac30" stroke-width="6.9" fill="none" stroke-miterlimit="10"/><path d="M1906.5 403.7L1919.0 426.3L1894.0 426.3Z" stroke="#77ac30" stroke-width="6.9" fill="none" stroke-miterlimit="10"/><path d="M1951.2 313.8L1963.7 336.3L1938.7 336.3Z" stroke="#77ac30" stroke-width="6.9" fill="none" stroke-miterlimit="10"/><path d="M1996.0 361.8L2008.5 384.4L1983.5 384.4Z" stroke="#77ac30" stroke-width="6.9" fill="none" stroke-miterlimit="10"/><path d="M2040.7 345.5L2053.2 368.0L2028.2 368.0Z" stroke="#77ac30" stroke-width="6.9" fill="none" stroke-miterlimit="10"/><path d="M2085.5 368.0L2098.0 390.5L2073.0 390.5Z" stroke="#77ac30" stroke-width="6.9" fill="none" stroke-miterlimit="10"/>
<rect x="1427" y="101" width="152" height="449" fill="none" stroke="#111" stroke-width="1.8"/>
<path d="M1058.0 155.0L1427 101M1058.0 623.0L1427 550" stroke="#111" stroke-width="1.8" stroke-dasharray="19.5 11" fill="none"/>
<rect x="484.0" y="155.0" width="574.0" height="468.0" fill="#fff" stroke="#111" stroke-width="1.8"/>
<polyline clip-path="url(#ci)" points="466.7,642.1 479.5,487.9 492.3,455.5 505.2,458.5 518.0,508.9 530.8,557.2 543.7,447.0 556.5,417.2 569.3,418.3 582.2,487.7 595.0,557.2 607.8,422.3 620.7,400.1 633.5,426.3 646.3,481.5 659.2,325.0 672.0,266.0 684.8,222.5 697.7,197.0 710.5,182.0 723.3,176.5 736.2,178.5 749.0,185.0 761.8,205.6 774.7,234.5 787.5,279.0 800.3,370.0 813.2,634.0 826.0,419.0 838.8,409.3 851.7,455.7 864.5,648.7 877.3,459.6 890.2,440.3 903.0,459.6 915.8,575.8 928.6,495.4 941.5,435.2 954.3,418.5 967.1,433.3 980.0,470.4 992.8,598.1 1005.6,537.0 1018.5,492.6 1031.3,497.2 1044.1,548.1 1057.0,673.0 1069.8,509.9 1082.6,506.8" fill="none" stroke="#dcb9fd" stroke-width="4.8" stroke-linejoin="round" stroke-linecap="round"/>
<g clip-path="url(#cim)"><path d="M531.7 447.0H555.7M543.7 435.0V459.0" stroke="#dcb9fd" stroke-width="4.8" fill="none"/><path d="M724.2 178.5H748.2M736.2 166.5V190.5" stroke="#dcb9fd" stroke-width="4.8" fill="none"/><path d="M916.6 495.4H940.6M928.6 483.4V507.4" stroke="#dcb9fd" stroke-width="4.8" fill="none"/></g>
<polyline clip-path="url(#ci)" points="466.7,389.1 479.5,342.0 492.3,349.5 505.2,364.0 518.0,382.1 530.8,399.0 543.7,409.3 556.5,423.2 569.3,476.6 582.2,525.0 595.0,431.0 607.8,390.0 620.7,376.0 633.5,375.5 646.3,381.4 659.2,406.0 672.0,451.9 684.8,515.7 697.7,453.7 710.5,397.0 723.3,364.5 736.2,350.0 749.0,336.8 761.8,331.9 774.7,334.3 787.5,339.2 800.3,345.8 813.2,349.4 826.0,350.0 838.8,351.3 851.7,357.3 864.5,369.4 877.3,392.3 890.2,412.0 903.0,394.7 915.8,371.0 928.6,358.8 941.5,354.3 954.3,360.4 967.1,373.7 980.0,394.2 992.8,422.0 1005.6,432.0 1018.5,394.2 1031.3,367.6 1044.1,348.3 1057.0,341.7 1069.8,362.0 1082.6,369.6" fill="none" stroke="#6cc7f0" stroke-width="5.0" stroke-linejoin="round" stroke-linecap="round"/>
<g clip-path="url(#cim)"><circle cx="543.7" cy="409.3" r="11" stroke="#6cc7f0" stroke-width="5.0" fill="none"/><circle cx="736.2" cy="350.0" r="11" stroke="#6cc7f0" stroke-width="5.0" fill="none"/><circle cx="928.6" cy="358.8" r="11" stroke="#6cc7f0" stroke-width="5.0" fill="none"/></g>
<polyline clip-path="url(#ci)" points="466.7,401.1 479.5,364.0 492.3,365.2 505.2,367.0 518.0,371.3 530.8,378.5 543.7,384.0 556.5,377.3 569.3,367.6 582.2,359.8 595.0,359.2 607.8,367.6 620.7,380.3 633.5,384.5 646.3,374.2 659.2,363.3 672.0,363.9 684.8,379.0 697.7,391.1 710.5,383.9 723.3,364.5 736.2,353.7 749.0,359.7 761.8,374.2 774.7,383.5 787.5,375.4 800.3,363.3 813.2,359.7 826.0,371.8 838.8,398.4 851.7,411.9 864.5,382.7 877.3,359.7 890.2,355.5 903.0,362.1 915.8,379.0 928.6,387.0 941.5,373.7 954.3,361.6 967.1,358.0 980.0,367.6 992.8,379.7 1005.6,384.5 1018.5,378.5 1031.3,374.9 1044.1,377.3 1057.0,383.3 1069.8,397.0 1082.6,384.0" fill="none" stroke="#ecb120" stroke-width="6.0" stroke-linejoin="round" stroke-linecap="round"/>
<g clip-path="url(#cim)"><path d="M535.1 375.4L552.3 392.6M535.1 392.6L552.3 375.4" stroke="#ecb120" stroke-width="5.5" fill="none"/><path d="M727.6 345.1L744.8 362.3M727.6 362.3L744.8 345.1" stroke="#ecb120" stroke-width="5.5" fill="none"/><path d="M920.0 378.4L937.2 395.6M920.0 395.6L937.2 378.4" stroke="#ecb120" stroke-width="5.5" fill="none"/></g>
<polyline clip-path="url(#ci)" points="466.7,379.6 479.5,366.0 492.3,370.7 505.2,377.3 518.0,388.8 530.8,393.0 543.7,383.0 556.5,374.9 569.3,377.3 582.2,389.4 595.0,400.2 607.8,402.0 620.7,395.4 633.5,393.0 646.3,399.0 659.2,400.8 672.0,364.5 684.8,335.6 697.7,312.6 710.5,299.3 723.3,292.0 736.2,294.5 749.0,303.0 761.8,319.9 774.7,345.2 787.5,367.0 800.3,373.6 813.2,373.0 826.0,376.6 838.8,380.2 851.7,378.4 864.5,370.6 877.3,364.5 890.2,365.1 903.0,373.0 915.8,378.0 928.6,376.0 941.5,382.1 954.3,393.0 967.1,418.4 980.0,457.0 992.8,420.8 1005.6,396.6 1018.5,379.7 1031.3,373.7 1044.1,375.5 1057.0,376.1 1069.8,375.1 1082.6,382.1" fill="none" stroke="#d95319" stroke-width="7.1" stroke-linejoin="round" stroke-linecap="round"/>
<g clip-path="url(#cim)"><path d="M543.7 368.5L553.4 383.0L543.7 397.5L534.0 383.0Z" stroke="#d95319" stroke-width="7.1" fill="none" stroke-miterlimit="10"/><path d="M736.2 280.0L745.9 294.5L736.2 309.0L726.5 294.5Z" stroke="#d95319" stroke-width="7.1" fill="none" stroke-miterlimit="10"/><path d="M928.6 361.5L938.3 376.0L928.6 390.5L918.9 376.0Z" stroke="#d95319" stroke-width="7.1" fill="none" stroke-miterlimit="10"/></g>
<polyline clip-path="url(#ci)" points="466.7,390.1 479.5,380.0 492.3,387.0 505.2,395.4 518.0,401.4 530.8,387.0 543.7,370.0 556.5,374.0 569.3,384.5 582.2,415.3 595.0,396.6 607.8,356.8 620.7,344.7 633.5,353.1 646.3,410.0 659.2,392.0 672.0,297.0 684.8,256.3 697.7,232.1 710.5,220.0 723.3,214.0 736.2,219.7 749.0,232.1 761.8,251.4 774.7,272.0 787.5,309.0 800.3,348.8 813.2,400.0 826.0,453.8 838.8,471.2 851.7,453.8 864.5,440.3 877.3,438.3 890.2,437.4 903.0,431.6 915.8,422.0 928.6,408.7 941.5,396.6 954.3,389.4 967.1,382.1 980.0,372.5 992.8,368.8 1005.6,368.8 1018.5,374.9 1031.3,399.0 1044.1,434.1 1057.0,468.0 1069.8,419.0 1082.6,433.1" fill="none" stroke="#77ac30" stroke-width="6.9" stroke-linejoin="round" stroke-linecap="butt" stroke-dasharray="6.8 5.2"/>
<g clip-path="url(#cim)"><path d="M543.7 355.3L556.2 377.9L531.2 377.9Z" stroke="#77ac30" stroke-width="6.9" fill="none" stroke-miterlimit="10"/><path d="M736.2 205.0L748.7 227.6L723.7 227.6Z" stroke="#77ac30" stroke-width="6.9" fill="none" stroke-miterlimit="10"/><path d="M928.6 394.0L941.1 416.6L916.1 416.6Z" stroke="#77ac30" stroke-width="6.9" fill="none" stroke-miterlimit="10"/></g>
<g font-family="Liberation Serif, serif" font-size="57.4" fill="#262626">
<text x="130.79" y="56.60">50</text>
<text x="130.84" y="312.20">25</text>
<text x="159.49" y="567.80">0</text>
<text transform="translate(89.43 827.20) scale(1.273 1)" x="0" y="0">−</text><text x="130.84" y="823.40">25</text>
<text transform="translate(90.18 1082.80) scale(1.273 1)" x="0" y="0">−</text><text x="130.79" y="1079.00">50</text>
<text transform="translate(149.45 1133.70) scale(1.273 1)" x="0" y="0">−</text><text x="191.20" y="1129.90">0.5</text>
<text transform="translate(339.38 1133.70) scale(1.273 1)" x="0" y="0">−</text><text x="381.13" y="1129.90">0.4</text>
<text transform="translate(530.65 1133.70) scale(1.273 1)" x="0" y="0">−</text><text x="572.40" y="1129.90">0.3</text>
<text transform="translate(721.71 1133.70) scale(1.273 1)" x="0" y="0">−</text><text x="763.47" y="1129.90">0.2</text>
<text transform="translate(912.45 1133.70) scale(1.273 1)" x="0" y="0">−</text><text x="954.21" y="1129.90">0.1</text>
<text x="1145.55" y="1129.90">0</text>
<text x="1315.26" y="1129.90">0.1</text>
<text x="1505.72" y="1129.90">0.2</text>
<text x="1695.85" y="1129.90">0.3</text>
<text x="1885.78" y="1129.90">0.4</text>
<text x="2077.05" y="1129.90">0.5</text>
</g>
<text x="1159.6" y="1210.4" text-anchor="middle" font-family="Liberation Sans, Arial, sans-serif" font-weight="bold" font-size="58" letter-spacing="0.9" fill="#262626">Normalized frequency (Hz)</text>
<text transform="translate(66.3 554.1) rotate(-90)" text-anchor="middle" font-family="Liberation Sans, Arial, sans-serif" font-weight="bold" font-size="58.4" letter-spacing="0.65" fill="#262626">Spectrum level (dB)</text>
<rect x="464.5" y="960" width="1388.0" height="73" fill="#fff" stroke="#111" stroke-width="1.8"/>
<path d="M476 996.5H593" stroke="#dcb9fd" stroke-width="4.8" fill="none"/>
<path d="M522.5 996.5H546.5M534.5 984.5V1008.5" stroke="#dcb9fd" stroke-width="4.8" fill="none"/>
<text x="599.2" y="1016.2" font-family="Liberation Sans, Arial, sans-serif" font-weight="bold" font-size="50" letter-spacing="-0.8" fill="#000">OPT</text>
<path d="M724 996.5H841" stroke="#6cc7f0" stroke-width="5.0" fill="none"/>
<circle cx="782.5" cy="996.5" r="11" stroke="#6cc7f0" stroke-width="5.0" fill="none"/>
<text x="848.6" y="1016.2" font-family="Liberation Sans, Arial, sans-serif" font-weight="bold" font-size="50" letter-spacing="-0.8" fill="#000">MTIC</text>
<path d="M991 996.5H1108" stroke="#ecb120" stroke-width="6.0" fill="none"/>
<path d="M1040.9 987.9L1058.1 1005.1M1040.9 1005.1L1058.1 987.9" stroke="#ecb120" stroke-width="5.5" fill="none"/>
<text x="1115.2" y="1016.2" font-family="Liberation Sans, Arial, sans-serif" font-weight="bold" font-size="50" letter-spacing="-0.8" fill="#000">CAN</text>
<path d="M1245 996.5H1362" stroke="#d95319" stroke-width="7.1" fill="none"/>
<path d="M1303.5 982.0L1313.2 996.5L1303.5 1011.0L1293.8 996.5Z" stroke="#d95319" stroke-width="7.1" fill="none" stroke-miterlimit="10"/>
<text x="1368.2" y="1016.2" font-family="Liberation Sans, Arial, sans-serif" font-weight="bold" font-size="50" letter-spacing="-0.8" fill="#000">CCMRCG</text>
<path d="M1613 996.5H1724" stroke="#77ac30" stroke-width="6.9" stroke-dasharray="6.8 5.2" fill="none"/>
<path d="M1668.5 981.8L1681.0 1004.4L1656.0 1004.4Z" stroke="#77ac30" stroke-width="6.9" fill="none" stroke-miterlimit="10"/>
<text x="1736.4" y="1016.2" font-family="Liberation Sans, Arial, sans-serif" font-weight="bold" font-size="50" letter-spacing="-0.8" fill="#000">SDR</text>
</svg>
</body></html>
